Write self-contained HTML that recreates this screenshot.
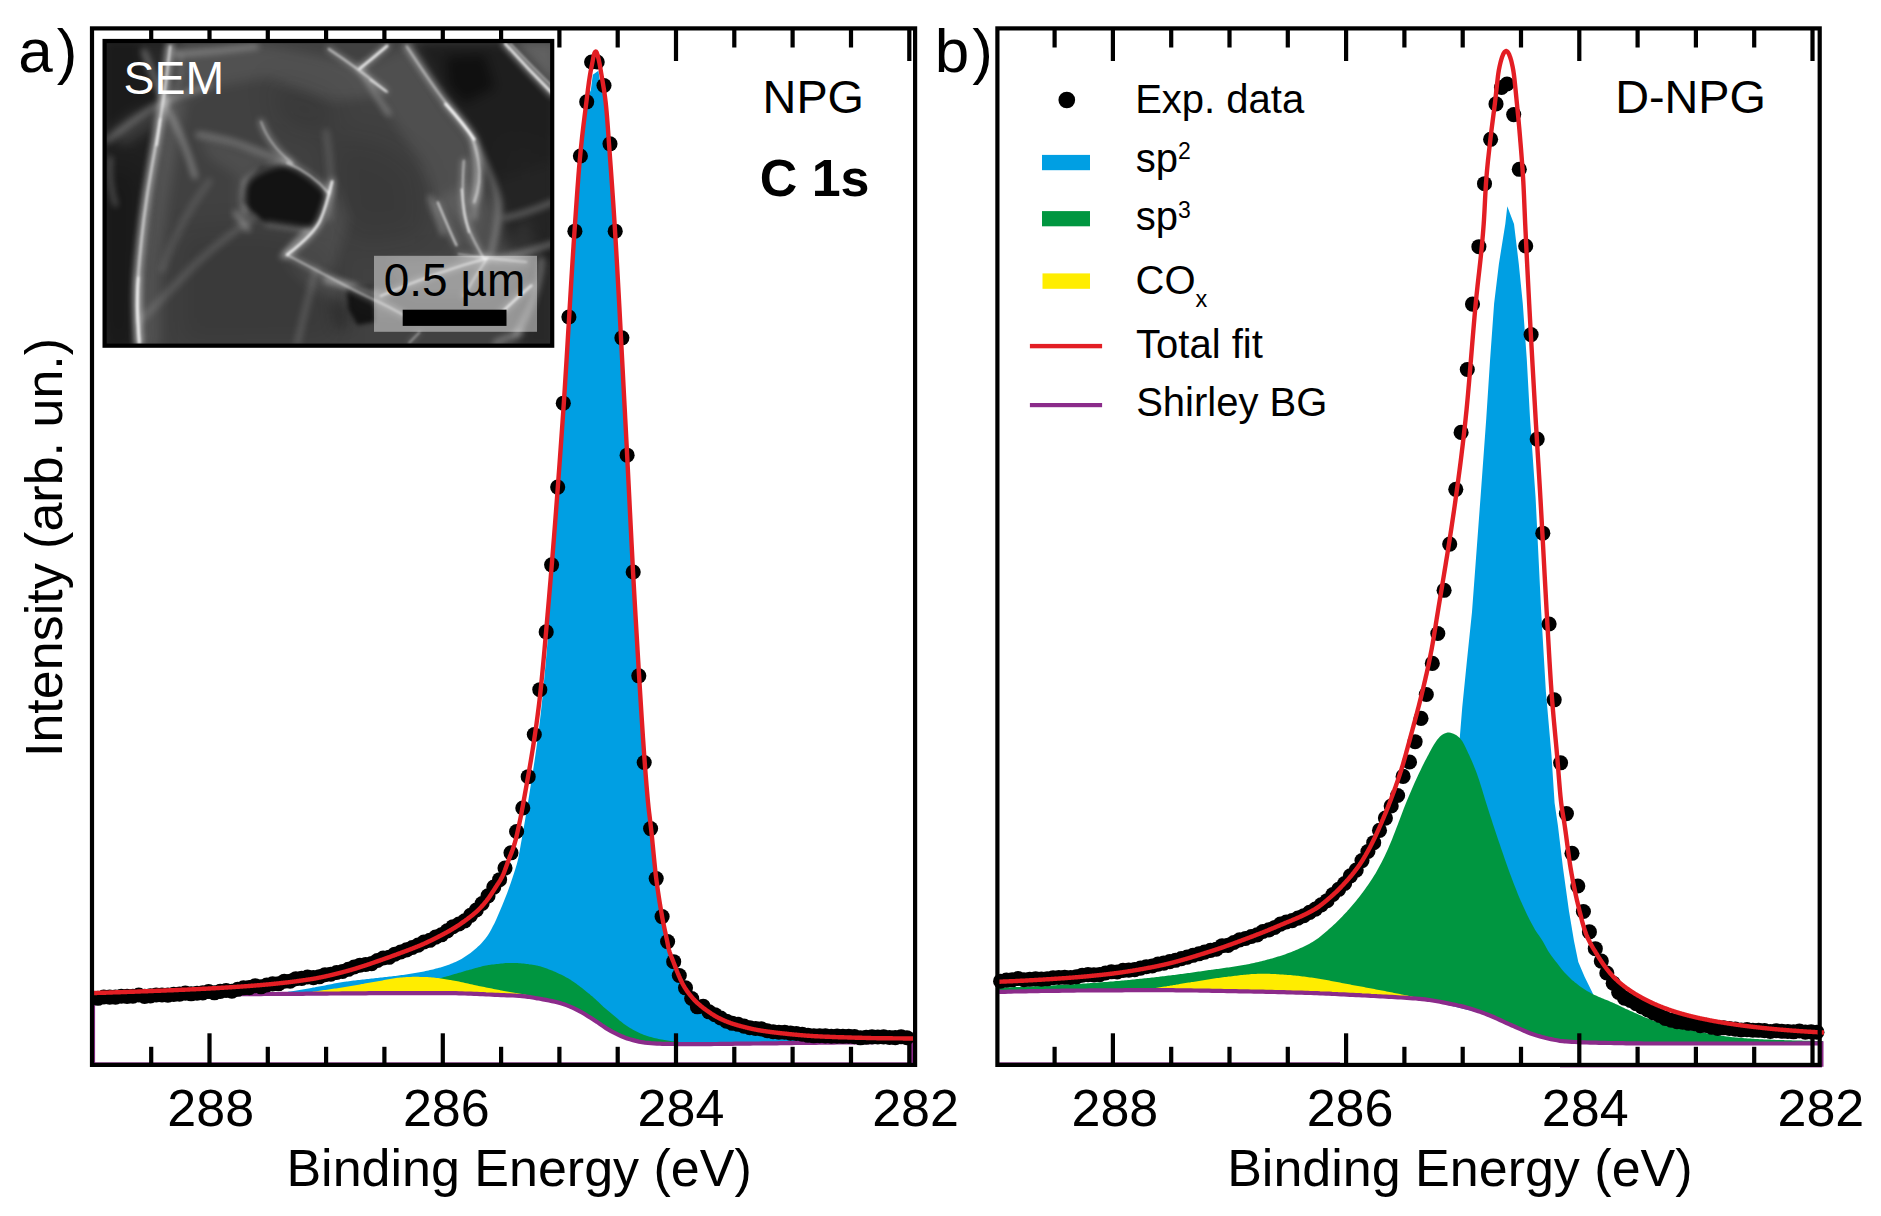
<!DOCTYPE html>
<html lang="en"><head><meta charset="utf-8"><title>XPS C 1s: NPG and D-NPG</title>
<style>html,body{margin:0;padding:0;background:#fff}body{width:1881px;height:1216px;overflow:hidden}</style></head>
<body>
<svg width="1881" height="1216" viewBox="0 0 1881 1216" style="display:block">
<rect width="1881" height="1216" fill="#fff"/>
<g id="panelA">
<path d="M277 993.5L278.5 993.3L280 993L281.5 992.8L283 992.6L284.5 992.3L286 992.1L287.5 991.9L289 991.6L290.5 991.4L292 991.2L293.5 990.9L295 990.7L296.5 990.4L298 990.2L299.5 989.9L301 989.7L302.5 989.4L304 989.2L305.5 988.9L307 988.7L308.5 988.4L310 988.2L311 988L311.5 987.9L313 987.6L314.5 987.4L316 987.1L317.5 986.8L319 986.5L320.5 986.2L322 985.9L323.5 985.7L325 985.4L326.5 985.1L328 984.8L329.5 984.5L331 984.2L332.5 983.9L334 983.6L335.5 983.3L337 983.1L338.5 982.8L340 982.5L341.5 982.3L343 982L344.5 981.8L345.3 981.7L346 981.6L347.5 981.4L349 981.2L350.5 981L352 980.8L353.5 980.6L355 980.4L356.5 980.2L358 980.1L359.5 979.9L361 979.7L362.5 979.5L364 979.4L365.5 979.2L367 979.1L368.5 978.9L370 978.7L371.5 978.6L373 978.4L374.5 978.3L376 978.1L377.5 978L379 977.8L380.5 977.6L382 977.5L383.5 977.3L385 977.1L386.5 977L388 976.8L389.5 976.6L391 976.5L392.5 976.3L394 976.1L395.5 975.9L397 975.7L398.5 975.5L400 975.3L401.5 975.1L403 974.9L404.5 974.7L406 974.4L407.5 974.2L409 974L410.5 973.8L412 973.5L413.5 973.3L415 973L416.5 972.8L418 972.5L419.5 972.3L421 972L422.5 971.7L424 971.4L425.5 971.1L427 970.8L428.5 970.5L430 970.1L431.5 969.8L433 969.4L434.5 969L436 968.6L437.5 968.2L439 967.8L440.5 967.4L442 966.9L443.5 966.5L445 966L446.5 965.5L448 965L449.5 964.4L451 963.8L452.5 963.2L454 962.6L455.5 961.9L457 961.2L458.5 960.5L459.5 960L460 959.7L461.5 958.9L463 958L464.5 957.1L466 956.1L467.5 955.1L469 954L470.5 952.9L472 951.7L473.5 950.5L475 949.3L476.5 948L478 946.6L479.5 945.2L481 943.7L482.5 942L484 940.3L485.5 938.5L485.8 938.1L487 936.5L488.5 934.2L490 931.7L491.5 929L493 926.1L494 924.2L494.5 923.2L496 920L497.5 916.6L499 913.1L500.5 909.5L500.6 909.3L502 906L503.5 902.3L505 898.6L506.5 894.8L507.2 892.9L508 890.7L509.5 886.6L511 882.2L512.5 877.7L512.9 876.5L514 873.2L515.5 868.6L517 863.5L517.9 860L518.5 857.2L520 848.9L520.8 844.3L521.5 840.4L523 831.9L524.5 823.3L525 820.4L526 814.5L527.5 805.6L528.4 800L529 796.2L530.5 786.8L532 777.3L533.5 767.7L535 757.7L536.5 747.2L538 736.1L539.5 724.2L540 720L541 711.2L542.5 697L544 681.6L545.5 665.2L547 647.9L548.5 630L548.5 603.9L549.5 592.3L550.5 580.4L551.5 568.3L552.5 555.9L553.5 543.4L554.5 530.7L555.5 517.8L556.5 504.7L557.5 491.4L558.5 478L559.5 464.3L560.5 450.5L561.5 436.5L562.5 422.3L562.8 418L563.5 407.8L564.5 392.6L565.5 376.9L566.5 360.8L567.5 344.3L568.5 327.6L569.5 311L570.5 294.3L571.5 277.9L572.5 261.9L573.5 246.3L574.5 231.2L575 224L575.5 216.8L576.5 202.5L577.5 188.5L578.5 175.2L579.5 163.1L580 157.6L580.5 152.4L581.5 142.7L582.5 133.6L583.5 125.1L584.5 116.9L585.5 108.9L586.4 101.8L586.5 101L587.5 93L588.5 85.3L590.6 92L592.8 74.7L598.4 70.7L600.4 84L601.5 75L602.5 80.9L603.5 86.8L604.5 93.3L605.5 100.9L605.6 101.8L606.5 110.8L607.5 123L608.5 136.7L609.5 150.7L610 157.6L610.5 164.4L611.5 178.1L612.5 192.3L613.5 207L614.5 222.4L614.6 224L615.5 238.6L616.5 255.6L617.5 273.1L618.5 291.2L619.5 309.7L620.5 328.5L621.5 347.6L622.5 366.7L623.5 385.8L624.5 404.8L625.2 418L625.5 423.7L626.5 442.9L627.5 462.5L628.5 482.4L629.5 502.4L630.5 522.3L631.5 542L632.5 561.3L633.5 580.1L634.5 598.2L635.3 612L635.5 615.4L636.5 632.3L637.5 649.3L638.5 666.1L639.5 682.7L640.5 699L641.5 714.9L642.5 730.4L643.5 745.2L644.5 759.3L645.5 772.7L646.5 785.2L647.5 796.7L648 802L648.5 806.9L649.5 815.6L650.5 823.7L651.1 828.9L651.5 832.6L652.5 842.6L653.5 852.9L654.5 863L655.5 872.4L656.2 878.3L656.5 880.6L657.5 888L658.5 894.9L659.5 901.4L660.5 907.4L661.5 913.2L662.1 916.6L662.5 918.8L663.5 923.9L664.5 928.7L665.5 933.3L666.5 938L667.2 941.3L667.5 942.8L668.5 947.9L669 950L669.5 951.7L670.5 954.6L671.5 957.2L672.5 959.6L673.5 962L673.6 962.3L674.5 964.7L675.5 967.4L676.5 970L677.5 972.5L677.7 973L678.5 974.9L679.5 977.2L680.5 979.5L681.5 981.6L682.5 983.6L683 984.5L683.5 985.4L684.5 987.1L685.5 988.7L686.5 990.2L687.5 991.6L688.5 993L689.5 994.3L689.6 994.4L690.5 995.5L691.5 996.7L692.5 997.9L693.5 999L694.5 1000.1L695.5 1001.1L696.5 1002.1L697 1002.6L697.5 1003.1L698.5 1004L699.5 1004.8L700.5 1005.7L701.5 1006.5L702.5 1007.3L703.5 1008.1L704.5 1008.8L705.5 1009.6L706.1 1010L706.5 1010.3L707.5 1011L708.5 1011.7L709.5 1012.4L710.5 1013.1L711.5 1013.8L712.5 1014.4L713.5 1015L714.5 1015.7L715.5 1016.2L716.5 1016.8L717.5 1017.3L717.6 1017.4L718.5 1017.9L719.5 1018.4L720.5 1018.9L721.5 1019.3L722.5 1019.8L723.5 1020.2L724.5 1020.7L725.5 1021.1L726.5 1021.5L727.5 1021.9L728.5 1022.3L729.5 1022.7L729.9 1022.8L730.5 1023L731.5 1023.4L732.5 1023.7L733.5 1024L734.5 1024.3L735.5 1024.6L736.5 1024.9L737.5 1025.2L738.5 1025.5L739.5 1025.8L740.5 1026.1L741.5 1026.3L742.2 1026.5L742.5 1026.6L743.5 1026.8L744.5 1027.1L745.5 1027.3L746.5 1027.6L747.5 1027.8L748.5 1028.1L749.5 1028.3L750.5 1028.5L751.5 1028.8L752.5 1029L753.5 1029.2L754.5 1029.4L755.5 1029.6L756.5 1029.8L757.5 1030L758.5 1030.2L758.7 1030.2L759.5 1030.3L760.5 1030.5L761.5 1030.7L762.5 1030.8L763.5 1031L764.5 1031.1L765.5 1031.3L766.5 1031.4L767.5 1031.6L768.5 1031.7L769.5 1031.8L770.5 1032L771.5 1032.1L772.5 1032.2L773.5 1032.3L774.5 1032.5L775.5 1032.6L776.5 1032.7L777.5 1032.8L778.5 1032.9L779.5 1033L780 1033.1L780.5 1033.2L781.5 1033.3L782.5 1033.4L783.5 1033.5L784.5 1033.6L785.5 1033.7L786.5 1033.8L787.5 1033.9L788.5 1034L789.5 1034.1L790.5 1034.2L791.5 1034.3L792.5 1034.4L793.5 1034.5L794.5 1034.6L795.5 1034.7L796.5 1034.8L797.5 1034.9L798.5 1035L799.5 1035.1L800 1035.1L800 1043L799.5 1043L798.5 1043L797.5 1043L796.5 1043L795.5 1043L794.5 1043L793.5 1043.1L792.5 1043.1L791.5 1043.1L790.5 1043.1L789.5 1043.1L788.5 1043.1L787.5 1043.1L786.5 1043.1L785.5 1043.2L784.5 1043.2L783.5 1043.2L782.5 1043.2L781.5 1043.2L780.5 1043.2L780 1043.2L779.5 1043.2L778.5 1043.2L777.5 1043.2L776.5 1043.3L775.5 1043.3L774.5 1043.3L773.5 1043.3L772.5 1043.3L771.5 1043.3L770.5 1043.3L769.5 1043.3L768.5 1043.4L767.5 1043.4L766.5 1043.4L765.5 1043.4L764.5 1043.4L763.5 1043.4L762.5 1043.4L761.5 1043.4L760.5 1043.4L759.5 1043.5L758.7 1043.5L758.5 1043.5L757.5 1043.5L756.5 1043.5L755.5 1043.5L754.5 1043.5L753.5 1043.5L752.5 1043.5L751.5 1043.6L750.5 1043.6L749.5 1043.6L748.5 1043.6L747.5 1043.6L746.5 1043.6L745.5 1043.6L744.5 1043.6L743.5 1043.6L742.5 1043.7L742.2 1043.7L741.5 1043.7L740.5 1043.7L739.5 1043.7L738.5 1043.7L737.5 1043.7L736.5 1043.7L735.5 1043.7L734.5 1043.7L733.5 1043.8L732.5 1043.8L731.5 1043.8L730.5 1043.8L729.9 1043.8L729.5 1043.8L728.5 1043.8L727.5 1043.8L726.5 1043.8L725.5 1043.9L724.5 1043.9L723.5 1043.9L722.5 1043.9L721.5 1043.9L720.5 1043.9L719.5 1044L718.5 1044L717.6 1044L717.5 1044L716.5 1044L715.5 1044L714.5 1044L713.5 1044L712.5 1044.1L711.5 1044.1L710.5 1044.1L709.5 1044.1L708.5 1044.1L707.5 1044.1L706.5 1044.1L706.1 1044.1L705.5 1044.1L704.5 1044.2L703.5 1044.2L702.5 1044.2L701.5 1044.2L700.5 1044.2L699.5 1044.2L698.5 1044.2L697.5 1044.2L697 1044.2L696.5 1044.2L695.5 1044.2L694.5 1044.2L693.5 1044.2L692.5 1044.2L691.5 1044.2L690.5 1044.2L689.6 1044.2L689.5 1044.2L688.5 1044.2L687.5 1044.2L686.5 1044.2L685.5 1044.2L684.5 1044.1L683.5 1044.1L683 1044.1L682.5 1044.1L681.5 1044.1L680.5 1044.1L679.5 1044.1L678.5 1044.1L677.7 1044.1L677.5 1044.1L676.5 1044.1L675.5 1044L674.5 1044L673.6 1044L673.5 1044L672.5 1044L671.5 1044L670.5 1044L669.5 1043.9L669 1043.9L668.5 1043.9L667.5 1043.9L667.2 1043.9L666.5 1043.9L665.5 1043.9L664.5 1043.9L663.5 1043.8L662.5 1043.8L662.1 1043.8L661.5 1043.8L660.5 1043.8L659.5 1043.7L658.5 1043.7L657.5 1043.6L656.5 1043.6L656.2 1043.6L655.5 1043.5L654.5 1043.4L653.5 1043.4L652.5 1043.3L651.5 1043.2L651.1 1043.2L650.5 1043.1L649.5 1043L648.5 1042.9L648 1042.9L647.5 1042.8L646.5 1042.7L645.5 1042.6L644.5 1042.5L643.5 1042.4L642.5 1042.3L641.5 1042.1L640.5 1041.9L639.5 1041.7L638.5 1041.5L637.5 1041.3L636.5 1041L635.5 1040.8L635.3 1040.7L634.5 1040.5L633.5 1040.3L632.5 1040L631.5 1039.7L630.5 1039.4L629.5 1039.1L628.5 1038.8L627.5 1038.5L626.5 1038.2L625.5 1037.8L625.2 1037.7L624.5 1037.5L623.5 1037.1L622.5 1036.7L621.5 1036.2L620.5 1035.8L619.5 1035.3L618.5 1034.9L617.5 1034.4L616.5 1033.9L615.5 1033.4L614.6 1032.9L614.5 1032.9L613.5 1032.4L612.5 1031.8L611.5 1031.3L610.5 1030.8L610 1030.5L609.5 1030.2L608.5 1029.6L607.5 1029L606.5 1028.4L605.6 1027.8L605.5 1027.7L604.5 1027.1L603.5 1026.4L602.5 1025.7L601.5 1025L600.4 1024.3L598.4 1022.9L592.8 1019.2L590.6 1017.8L588.5 1016.5L587.5 1015.9L586.5 1015.2L586.4 1015.2L585.5 1014.6L584.5 1014L583.5 1013.4L582.5 1012.8L581.5 1012.2L580.5 1011.6L580 1011.3L579.5 1011.1L578.5 1010.5L577.5 1010L576.5 1009.6L575.5 1009.1L575 1008.8L574.5 1008.6L573.5 1008.2L572.5 1007.7L571.5 1007.3L570.5 1006.8L569.5 1006.4L568.5 1006L567.5 1005.6L566.5 1005.2L565.5 1004.8L564.5 1004.5L563.5 1004.1L562.8 1003.9L562.5 1003.8L561.5 1003.5L560.5 1003.2L559.5 1002.9L558.5 1002.7L557.5 1002.4L556.5 1002.2L555.5 1001.9L554.5 1001.7L553.5 1001.5L552.5 1001.2L551.5 1001L550.5 1000.8L549.5 1000.6L548.5 1000.4L548.5 1000.4L547 1000.1L545.5 999.8L544 999.5L542.5 999.3L541 999L540 998.8L539.5 998.8L538 998.5L536.5 998.2L535 998L533.5 997.7L532 997.5L530.5 997.2L529 997L528.4 996.9L527.5 996.8L526 996.5L525 996.4L524.5 996.3L523 996.2L521.5 996L520.8 996L520 995.9L518.5 995.8L517.9 995.8L517 995.7L515.5 995.6L514 995.6L512.9 995.5L512.5 995.5L511 995.4L509.5 995.4L508 995.3L507.2 995.3L506.5 995.3L505 995.2L503.5 995.2L502 995.1L500.6 995L500.5 995L499 995L497.5 994.9L496 994.8L494.5 994.8L494 994.7L493 994.7L491.5 994.6L490 994.5L488.5 994.5L487 994.4L485.8 994.3L485.5 994.3L484 994.3L482.5 994.2L481 994.1L479.5 994L478 994L476.5 993.9L475 993.8L473.5 993.8L472 993.7L470.5 993.7L469 993.6L467.5 993.5L466 993.5L464.5 993.4L463 993.4L461.5 993.4L460 993.3L459.5 993.3L458.5 993.3L457 993.3L455.5 993.2L454 993.2L452.5 993.2L451 993.2L449.5 993.2L448 993.2L446.5 993.2L445 993.2L443.5 993.2L442 993.2L440.5 993.2L439 993.2L437.5 993.1L436 993.1L434.5 993.1L433 993.1L431.5 993.1L430 993.1L428.5 993.1L427 993.1L425.5 993.1L424 993.1L422.5 993.1L421 993.1L419.5 993.1L418 993.1L416.5 993.1L415 993.1L413.5 993.1L412 993.1L410.5 993.1L409 993.1L407.5 993.1L406 993.1L404.5 993.1L403 993.1L401.5 993.1L400 993.1L398.5 993.1L397 993.1L395.5 993.1L394 993.1L392.5 993.1L391 993.1L389.5 993.1L388 993.1L386.5 993.1L385 993.2L383.5 993.2L382 993.2L380.5 993.2L379 993.2L377.5 993.2L376 993.2L374.5 993.2L373 993.2L371.5 993.2L370 993.2L368.5 993.2L367 993.3L365.5 993.3L364 993.3L362.5 993.3L361 993.3L359.5 993.3L358 993.3L356.5 993.3L355 993.3L353.5 993.3L352 993.4L350.5 993.4L349 993.4L347.5 993.4L346 993.4L345.3 993.4L344.5 993.4L343 993.4L341.5 993.4L340 993.5L338.5 993.5L337 993.5L335.5 993.5L334 993.5L332.5 993.5L331 993.5L329.5 993.5L328 993.6L326.5 993.6L325 993.6L323.5 993.6L322 993.6L320.5 993.6L319 993.6L317.5 993.6L316 993.7L314.5 993.7L313 993.7L311.5 993.7L311 993.7L310 993.7L308.5 993.7L307 993.7L305.5 993.7L304 993.8L302.5 993.8L301 993.8L299.5 993.8L298 993.8L296.5 993.8L295 993.8L293.5 993.8L292 993.9L290.5 993.9L289 993.9L287.5 993.9L286 993.9L284.5 993.9L283 993.9L281.5 993.9L280 993.9L278.5 994L277 994Z" fill="#009fe3"/>
<path d="M330 993.2L331.5 993.1L333 993.1L334.5 993L336 992.9L337.5 992.9L339 992.8L340.5 992.7L342 992.6L343.5 992.5L345 992.4L346.5 992.3L348 992.2L349.5 992L351 991.9L352.5 991.8L354 991.7L355.5 991.5L357 991.4L358.5 991.3L360 991.1L361.5 991L363 990.8L364.5 990.7L366 990.5L367.5 990.4L369 990.2L370.5 990L372 989.9L373.5 989.7L375 989.6L376.5 989.4L378 989.2L379.5 989.1L380 989L381 988.9L382.5 988.7L384 988.5L385.5 988.3L387 988.1L388.5 987.9L390 987.6L391.5 987.4L393 987.2L394.5 986.9L396 986.7L397.5 986.4L399 986.2L400 986L400.5 985.9L402 985.7L403.5 985.4L405 985.1L406.5 984.9L408 984.6L409.5 984.4L411 984.1L412.5 983.8L414 983.5L415.5 983.2L417 983L418.5 982.7L420 982.4L421.5 982.1L423 981.8L424.5 981.5L426 981.2L427.5 980.9L429 980.6L430.5 980.2L432 979.9L433.5 979.6L435 979.3L436.5 978.9L438 978.6L439.5 978.2L440.9 977.9L441 977.9L442.5 977.5L444 977.1L445.5 976.7L447 976.3L448.5 975.9L450 975.5L451.5 975L453 974.6L454.5 974.1L456 973.7L457.5 973.2L459 972.8L460.5 972.4L462 971.9L463.5 971.5L465 971L466.5 970.6L468 970.2L468.1 970.2L469.5 969.8L471 969.4L472.5 969L474 968.5L475.5 968.1L477 967.7L478.5 967.3L480 966.9L481.5 966.5L483 966.1L484.5 965.8L486 965.5L487.5 965.2L488.5 965.1L489 965L490.5 964.8L492 964.6L493.5 964.4L495 964.2L496.5 964L498 963.9L499.5 963.7L501 963.5L502.5 963.4L504 963.3L505.5 963.1L507 963.1L508.5 963L510 962.9L511.5 962.9L512.3 962.9L513 962.9L514.5 962.9L516 963L517.5 963.1L519 963.2L520.5 963.3L522 963.4L523.5 963.6L525 963.7L526.5 963.9L528 964.1L529.5 964.4L531 964.6L532.5 964.8L534 965L535.5 965.3L536.2 965.4L537 965.5L538.5 965.9L540 966.2L541.5 966.7L543 967.2L544.5 967.7L546 968.2L547.5 968.8L549 969.4L550.5 970L552 970.6L553.2 971.1L553.5 971.2L555 971.8L556.5 972.5L558 973.2L559.5 973.9L561 974.6L562.5 975.3L564 976.1L565.5 976.9L567 977.8L568.5 978.6L570 979.5L570.2 979.6L571.5 980.4L573 981.4L574.5 982.5L576 983.6L577 984.3L577.5 984.7L579 985.8L580.5 986.9L582 988.1L583.5 989.3L585 990.5L586.5 991.7L587.2 992.3L588 992.9L589.5 994.1L591 995.4L592.5 996.6L594 997.9L595.5 999.3L597 1000.7L598.5 1002.1L600 1003.6L601.5 1005L602.6 1006L603 1006.4L604.5 1007.7L606 1009L607.5 1010.2L609 1011.5L610.5 1012.7L611.1 1013.2L612 1013.9L613.5 1015.2L615 1016.5L616.5 1017.8L618 1019.1L619.5 1020.4L621 1021.6L622.5 1022.8L624 1024L625.5 1025.1L627 1026.1L628.1 1026.8L628.5 1027L630 1028L631.5 1028.8L633 1029.7L634.5 1030.5L636 1031.3L637.5 1032.1L639 1032.8L640.5 1033.5L642 1034.1L643.5 1034.7L645 1035.3L645.1 1035.3L646.5 1035.8L648 1036.2L649.5 1036.7L651 1037.1L652.5 1037.5L654 1037.9L655.5 1038.2L657 1038.6L658.5 1038.9L660 1039.2L661.5 1039.5L662.1 1039.6L663 1039.8L664.5 1040L666 1040.3L667.5 1040.5L669 1040.7L670.5 1041L672 1041.2L673.5 1041.3L675 1041.5L675.7 1041.6L676.5 1041.7L678 1041.8L679.5 1042L681 1042.2L682.5 1042.3L684 1042.5L685.5 1042.6L687 1042.7L688.5 1042.9L690 1043L691.5 1043.1L693 1043.2L694.5 1043.3L696 1043.4L697.5 1043.5L699 1043.6L700 1043.6L700 1044.2L699 1044.2L697.5 1044.2L696 1044.2L694.5 1044.2L693 1044.2L691.5 1044.2L690 1044.2L688.5 1044.2L687 1044.2L685.5 1044.2L684 1044.1L682.5 1044.1L681 1044.1L679.5 1044.1L678 1044.1L676.5 1044.1L675.7 1044L675 1044L673.5 1044L672 1044L670.5 1044L669 1043.9L667.5 1043.9L666 1043.9L664.5 1043.9L663 1043.8L662.1 1043.8L661.5 1043.8L660 1043.7L658.5 1043.7L657 1043.6L655.5 1043.5L654 1043.4L652.5 1043.3L651 1043.2L649.5 1043L648 1042.9L646.5 1042.7L645.1 1042.6L645 1042.6L643.5 1042.4L642 1042.2L640.5 1041.9L639 1041.6L637.5 1041.3L636 1040.9L634.5 1040.5L633 1040.1L631.5 1039.7L630 1039.3L628.5 1038.8L628.1 1038.7L627 1038.4L625.5 1037.8L624 1037.3L622.5 1036.7L621 1036L619.5 1035.3L618 1034.6L616.5 1033.9L615 1033.1L613.5 1032.4L612 1031.6L611.1 1031.1L610.5 1030.8L609 1029.9L607.5 1029L606 1028.1L604.5 1027.1L603 1026.1L602.6 1025.8L601.5 1025L600 1024L598.5 1023L597 1021.9L595.5 1021L594 1020L592.5 1019.1L591 1018.1L589.5 1017.1L588 1016.2L587.2 1015.7L586.5 1015.2L585 1014.3L583.5 1013.4L582 1012.5L580.5 1011.6L579 1010.8L577.5 1010L577 1009.8L576 1009.3L574.5 1008.6L573 1007.9L571.5 1007.3L570.2 1006.7L570 1006.6L568.5 1006L567 1005.4L565.5 1004.8L564 1004.3L562.5 1003.8L561 1003.4L559.5 1002.9L558 1002.5L556.5 1002.2L555 1001.8L553.5 1001.5L553.2 1001.4L552 1001.1L550.5 1000.8L549 1000.5L547.5 1000.2L546 999.9L544.5 999.6L543 999.4L541.5 999.1L540 998.8L538.5 998.6L537 998.3L536.2 998.2L535.5 998.1L534 997.8L532.5 997.6L531 997.3L529.5 997.1L528 996.8L526.5 996.6L525 996.4L523.5 996.2L522 996.1L520.5 995.9L519 995.8L517.5 995.7L516 995.7L514.5 995.6L513 995.5L512.3 995.5L511.5 995.5L510 995.4L508.5 995.3L507 995.3L505.5 995.2L504 995.2L502.5 995.1L501 995.1L499.5 995L498 994.9L496.5 994.9L495 994.8L493.5 994.7L492 994.6L490.5 994.6L489 994.5L488.5 994.5L487.5 994.4L486 994.4L484.5 994.3L483 994.2L481.5 994.1L480 994.1L478.5 994L477 993.9L475.5 993.9L474 993.8L472.5 993.7L471 993.7L469.5 993.6L468.1 993.6L468 993.6L466.5 993.5L465 993.5L463.5 993.4L462 993.4L460.5 993.3L459 993.3L457.5 993.3L456 993.2L454.5 993.2L453 993.2L451.5 993.2L450 993.2L448.5 993.2L447 993.2L445.5 993.2L444 993.2L442.5 993.2L441 993.2L440.9 993.2L439.5 993.2L438 993.1L436.5 993.1L435 993.1L433.5 993.1L432 993.1L430.5 993.1L429 993.1L427.5 993.1L426 993.1L424.5 993.1L423 993.1L421.5 993.1L420 993.1L418.5 993.1L417 993.1L415.5 993.1L414 993.1L412.5 993.1L411 993.1L409.5 993.1L408 993.1L406.5 993.1L405 993.1L403.5 993.1L402 993.1L400.5 993.1L400 993.1L399 993.1L397.5 993.1L396 993.1L394.5 993.1L393 993.1L391.5 993.1L390 993.1L388.5 993.1L387 993.1L385.5 993.2L384 993.2L382.5 993.2L381 993.2L380 993.2L379.5 993.2L378 993.2L376.5 993.2L375 993.2L373.5 993.2L372 993.2L370.5 993.2L369 993.2L367.5 993.2L366 993.3L364.5 993.3L363 993.3L361.5 993.3L360 993.3L358.5 993.3L357 993.3L355.5 993.3L354 993.3L352.5 993.4L351 993.4L349.5 993.4L348 993.4L346.5 993.4L345 993.4L343.5 993.4L342 993.4L340.5 993.4L339 993.5L337.5 993.5L336 993.5L334.5 993.5L333 993.5L331.5 993.5L330 993.5Z" fill="#009640"/>
<path d="M300 993.6L301.5 993.4L303 993.2L304.5 992.9L306 992.7L307.5 992.5L309 992.3L310.5 992.1L311 992L312 991.9L313.5 991.6L315 991.4L316.5 991.2L318 991L319.5 990.8L321 990.6L322.5 990.3L324 990.1L325.5 989.9L327 989.7L328.5 989.5L330 989.3L331.5 989.1L333 988.8L334.5 988.6L336 988.4L337.5 988.2L339 987.9L340.5 987.7L342 987.5L343.5 987.2L345 987L346.5 986.8L348 986.5L349.5 986.3L351 986L352.5 985.7L354 985.5L355.5 985.2L357 984.9L358.5 984.7L360 984.4L361.5 984.1L363 983.9L364.5 983.6L366 983.3L367.5 983L369 982.8L370.5 982.5L372 982.2L373.5 982L375 981.7L376.5 981.4L378 981.2L379 981L379.5 980.9L381 980.7L382.5 980.4L384 980.1L385.5 979.8L387 979.5L388.5 979.2L390 979L391.5 978.7L393 978.5L394.5 978.2L396 978L397.5 977.8L399 977.7L400 977.6L400.5 977.6L402 977.4L403.5 977.3L405 977.2L406.5 977.1L408 977L409.5 976.9L411 976.9L412.5 976.8L414 976.8L415 976.8L415.5 976.8L417 976.8L418.5 976.8L420 976.9L421.5 976.9L423 976.9L424.5 977L425.5 977L426 977L427.5 977.1L429 977.2L430.5 977.3L432 977.4L433.5 977.6L435 977.7L436.5 977.9L438 978.1L439.5 978.3L441 978.5L442.5 978.8L444 979L445.5 979.2L447 979.5L448.5 979.7L450 979.9L451.1 980.1L451.5 980.2L453 980.4L454.5 980.7L456 981L457.5 981.3L459 981.6L460.5 981.9L462 982.2L463.5 982.6L465 982.9L466.5 983.2L468 983.6L469.5 983.9L471 984.3L472.5 984.6L474 984.9L475.5 985.3L476.6 985.5L477 985.6L478.5 985.9L480 986.2L481.5 986.5L483 986.8L484.5 987.1L486 987.4L487.5 987.7L489 988L490.5 988.3L492 988.6L493.5 988.9L495 989.2L496.5 989.5L498 989.8L499.5 990.1L501 990.4L502.1 990.6L502.5 990.7L504 991L505.5 991.2L507 991.5L508.5 991.8L510 992L511.5 992.3L513 992.5L514.5 992.8L516 993L517.5 993.3L519 993.5L520.5 993.8L522 994.1L523.5 994.3L525 994.6L526.5 994.9L528 995.2L529.4 995.5L529.5 995.5L531 995.8L532.5 996.2L534 996.5L535.5 996.8L537 997.2L538.5 997.5L540 997.9L541.5 998.2L543 998.6L544.5 999L546 999.4L547.5 999.8L549 1000.2L550.5 1000.6L552 1001L553.5 1001.4L555 1001.8L556.5 1002.2L558 1002.5L559.5 1002.9L560 1003.1L560 1003.1L559.5 1002.9L558 1002.5L556.5 1002.2L555 1001.8L553.5 1001.5L552 1001.1L550.5 1000.8L549 1000.5L547.5 1000.2L546 999.9L544.5 999.6L543 999.4L541.5 999.1L540 998.8L538.5 998.6L537 998.3L535.5 998.1L534 997.8L532.5 997.6L531 997.3L529.5 997.1L529.4 997.1L528 996.8L526.5 996.6L525 996.4L523.5 996.2L522 996.1L520.5 995.9L519 995.8L517.5 995.7L516 995.7L514.5 995.6L513 995.5L511.5 995.5L510 995.4L508.5 995.3L507 995.3L505.5 995.2L504 995.2L502.5 995.1L502.1 995.1L501 995.1L499.5 995L498 994.9L496.5 994.9L495 994.8L493.5 994.7L492 994.6L490.5 994.6L489 994.5L487.5 994.4L486 994.4L484.5 994.3L483 994.2L481.5 994.1L480 994.1L478.5 994L477 993.9L476.6 993.9L475.5 993.9L474 993.8L472.5 993.7L471 993.7L469.5 993.6L468 993.6L466.5 993.5L465 993.5L463.5 993.4L462 993.4L460.5 993.3L459 993.3L457.5 993.3L456 993.2L454.5 993.2L453 993.2L451.5 993.2L451.1 993.2L450 993.2L448.5 993.2L447 993.2L445.5 993.2L444 993.2L442.5 993.2L441 993.2L439.5 993.2L438 993.1L436.5 993.1L435 993.1L433.5 993.1L432 993.1L430.5 993.1L429 993.1L427.5 993.1L426 993.1L425.5 993.1L424.5 993.1L423 993.1L421.5 993.1L420 993.1L418.5 993.1L417 993.1L415.5 993.1L415 993.1L414 993.1L412.5 993.1L411 993.1L409.5 993.1L408 993.1L406.5 993.1L405 993.1L403.5 993.1L402 993.1L400.5 993.1L400 993.1L399 993.1L397.5 993.1L396 993.1L394.5 993.1L393 993.1L391.5 993.1L390 993.1L388.5 993.1L387 993.1L385.5 993.2L384 993.2L382.5 993.2L381 993.2L379.5 993.2L379 993.2L378 993.2L376.5 993.2L375 993.2L373.5 993.2L372 993.2L370.5 993.2L369 993.2L367.5 993.2L366 993.3L364.5 993.3L363 993.3L361.5 993.3L360 993.3L358.5 993.3L357 993.3L355.5 993.3L354 993.3L352.5 993.4L351 993.4L349.5 993.4L348 993.4L346.5 993.4L345 993.4L343.5 993.4L342 993.4L340.5 993.4L339 993.5L337.5 993.5L336 993.5L334.5 993.5L333 993.5L331.5 993.5L330 993.5L328.5 993.5L327 993.6L325.5 993.6L324 993.6L322.5 993.6L321 993.6L319.5 993.6L318 993.6L316.5 993.7L315 993.7L313.5 993.7L312 993.7L311 993.7L310.5 993.7L309 993.7L307.5 993.7L306 993.7L304.5 993.8L303 993.8L301.5 993.8L300 993.8Z" fill="#ffed00"/>
<path d="M93 1063L93 994.5L96 994.5L99 994.5L102 994.5L105 994.5L108 994.5L111 994.5L114 994.5L117 994.5L120 994.5L123 994.5L126 994.5L129 994.5L132 994.4L135 994.4L138 994.4L141 994.4L144 994.4L147 994.4L150 994.4L153 994.4L156 994.4L159 994.4L162 994.4L165 994.4L168 994.4L171 994.4L174 994.4L177 994.3L180 994.3L183 994.3L186 994.3L189 994.3L192 994.3L195 994.3L198 994.3L201 994.3L204 994.3L207 994.3L210 994.2L213 994.2L216 994.2L219 994.2L222 994.2L225 994.2L228 994.2L231 994.2L234 994.2L237 994.2L240 994.1L243 994.1L246 994.1L249 994.1L251.7 994.1L252 994.1L255 994.1L258 994.1L261 994.1L264 994L267 994L270 994L273 994L276 994L279 994L282 993.9L285 993.9L288 993.9L291 993.9L294 993.8L297 993.8L300 993.8L303 993.8L306 993.7L309 993.7L312 993.7L315 993.7L318 993.6L321 993.6L324 993.6L327 993.6L330 993.5L333 993.5L336 993.5L339 993.5L342 993.4L345 993.4L348 993.4L351 993.4L354 993.3L357 993.3L360 993.3L363 993.3L366 993.3L369 993.2L372 993.2L375 993.2L378 993.2L381 993.2L384 993.2L387 993.1L390 993.1L393 993.1L396 993.1L399 993.1L402 993.1L405 993.1L408 993.1L410 993.1L411 993.1L414 993.1L417 993.1L420 993.1L423 993.1L426 993.1L429 993.1L432 993.1L435 993.1L438 993.1L441 993.2L444 993.2L447 993.2L450 993.2L451.1 993.2L453 993.2L456 993.2L459 993.3L462 993.4L465 993.5L468 993.6L471 993.7L474 993.8L477 993.9L480 994.1L483 994.2L486 994.4L489 994.5L492 994.6L495 994.8L498 994.9L501 995.1L502.1 995.1L504 995.2L507 995.3L510 995.4L513 995.5L516 995.7L519 995.8L520 995.9L522 996.1L525 996.4L528 996.8L531 997.3L534 997.8L536.2 998.2L537 998.3L540 998.8L543 999.4L546 999.9L549 1000.5L552 1001.1L555 1001.8L558 1002.5L560.8 1003.3L561 1003.4L564 1004.3L567 1005.4L570 1006.6L573 1007.9L576 1009.3L577 1009.8L579 1010.8L582 1012.5L585 1014.3L588 1016.2L591 1018.1L594 1020L597 1021.9L600 1024L603 1026.1L606 1028.1L609 1029.9L611.1 1031.1L612 1031.6L615 1033.1L618 1034.6L621 1036L624 1037.3L627 1038.4L628.1 1038.7L630 1039.3L633 1040.1L636 1040.9L639 1041.6L642 1042.2L645 1042.6L645.1 1042.6L648 1042.9L651 1043.2L654 1043.4L657 1043.6L660 1043.7L662.1 1043.8L663 1043.8L666 1043.9L669 1043.9L672 1044L675 1044L678 1044.1L681 1044.1L684 1044.1L687 1044.2L690 1044.2L693 1044.2L696 1044.2L696.2 1044.2L699 1044.2L702 1044.2L705 1044.2L708 1044.1L711 1044.1L714 1044L717 1044L720 1043.9L723 1043.9L726 1043.9L729 1043.8L730.2 1043.8L732 1043.8L735 1043.7L738 1043.7L741 1043.7L744 1043.6L747 1043.6L750 1043.6L753 1043.5L756 1043.5L759 1043.5L762 1043.4L765 1043.4L768 1043.4L771 1043.3L774 1043.3L777 1043.3L780 1043.2L783 1043.2L786 1043.1L789 1043.1L792 1043.1L795 1043L798 1043L798.3 1043L801 1043L804 1042.9L807 1042.9L810 1042.9L813 1042.8L816 1042.8L819 1042.7L822 1042.7L825 1042.7L828 1042.6L831 1042.6L834 1042.6L837 1042.5L840 1042.5L843 1042.4L846 1042.4L849 1042.4L852 1042.3L855 1042.3L858 1042.3L861 1042.2L864 1042.2L867 1042.1L870 1042.1L873 1042.1L876 1042L879 1042L882 1041.9L885 1041.9L888 1041.9L891 1041.8L894 1041.8L897 1041.7L900 1041.7L903 1041.7L906 1041.6L909 1041.6L912 1041.5L912.6 1041.5L912.6 1063" fill="none" stroke="#8b2b8a" stroke-width="4.2" stroke-linejoin="miter"/>
<path d="M93 1062.5H912" stroke="#8b2b8a" stroke-width="0.9" stroke-opacity="0.7" fill="none"/>
<g fill="#000"><rect x="149.1" y="30" width="4.2" height="17.5"/>
<rect x="149.1" y="1046.8" width="4.2" height="16.5"/>
<rect x="207.4" y="30" width="4.2" height="31"/>
<rect x="207.4" y="1033.3" width="4.2" height="30"/>
<rect x="265.7" y="30" width="4.2" height="17.5"/>
<rect x="265.7" y="1046.8" width="4.2" height="16.5"/>
<rect x="324" y="30" width="4.2" height="17.5"/>
<rect x="324" y="1046.8" width="4.2" height="16.5"/>
<rect x="382.3" y="30" width="4.2" height="17.5"/>
<rect x="382.3" y="1046.8" width="4.2" height="16.5"/>
<rect x="440.7" y="30" width="4.2" height="31"/>
<rect x="440.7" y="1033.3" width="4.2" height="30"/>
<rect x="499" y="30" width="4.2" height="17.5"/>
<rect x="499" y="1046.8" width="4.2" height="16.5"/>
<rect x="557.3" y="30" width="4.2" height="17.5"/>
<rect x="557.3" y="1046.8" width="4.2" height="16.5"/>
<rect x="615.6" y="30" width="4.2" height="17.5"/>
<rect x="615.6" y="1046.8" width="4.2" height="16.5"/>
<rect x="673.9" y="30" width="4.2" height="31"/>
<rect x="673.9" y="1033.3" width="4.2" height="30"/>
<rect x="732.2" y="30" width="4.2" height="17.5"/>
<rect x="732.2" y="1046.8" width="4.2" height="16.5"/>
<rect x="790.5" y="30" width="4.2" height="17.5"/>
<rect x="790.5" y="1046.8" width="4.2" height="16.5"/>
<rect x="848.9" y="30" width="4.2" height="17.5"/>
<rect x="848.9" y="1046.8" width="4.2" height="16.5"/>
<rect x="907.2" y="30" width="4.2" height="31"/>
<rect x="907.2" y="1033.3" width="4.2" height="30"/></g>
<g fill="#000"><circle cx="98" cy="998.3" r="7.55"/>
<circle cx="103.8" cy="997" r="7.55"/>
<circle cx="109.7" cy="997.1" r="7.55"/>
<circle cx="115.5" cy="997.1" r="7.55"/>
<circle cx="121.3" cy="996.2" r="7.55"/>
<circle cx="127.1" cy="996.4" r="7.55"/>
<circle cx="132.9" cy="996.2" r="7.55"/>
<circle cx="138.8" cy="995" r="7.55"/>
<circle cx="144.6" cy="996.4" r="7.55"/>
<circle cx="150.4" cy="995.9" r="7.55"/>
<circle cx="156.2" cy="995" r="7.55"/>
<circle cx="162" cy="995" r="7.55"/>
<circle cx="167.9" cy="995.1" r="7.55"/>
<circle cx="173.7" cy="994.4" r="7.55"/>
<circle cx="179.5" cy="994.1" r="7.55"/>
<circle cx="185.3" cy="993.1" r="7.55"/>
<circle cx="191.1" cy="993.8" r="7.55"/>
<circle cx="197" cy="993.2" r="7.55"/>
<circle cx="202.8" cy="992.9" r="7.55"/>
<circle cx="208.6" cy="991.5" r="7.55"/>
<circle cx="214.4" cy="992.8" r="7.55"/>
<circle cx="220.2" cy="991.4" r="7.55"/>
<circle cx="226.1" cy="990.5" r="7.55"/>
<circle cx="231.9" cy="991.2" r="7.55"/>
<circle cx="237.7" cy="989.3" r="7.55"/>
<circle cx="243.5" cy="987.8" r="7.55"/>
<circle cx="249.3" cy="987.6" r="7.55"/>
<circle cx="255.2" cy="985.7" r="7.55"/>
<circle cx="261" cy="986.8" r="7.55"/>
<circle cx="266.8" cy="985" r="7.55"/>
<circle cx="272.6" cy="983.9" r="7.55"/>
<circle cx="278.4" cy="983.8" r="7.55"/>
<circle cx="284.3" cy="981.2" r="7.55"/>
<circle cx="290.1" cy="981.2" r="7.55"/>
<circle cx="295.9" cy="978.7" r="7.55"/>
<circle cx="301.7" cy="978.4" r="7.55"/>
<circle cx="307.5" cy="977" r="7.55"/>
<circle cx="313.4" cy="977.6" r="7.55"/>
<circle cx="319.2" cy="976.8" r="7.55"/>
<circle cx="325" cy="974.7" r="7.55"/>
<circle cx="330.8" cy="974.2" r="7.55"/>
<circle cx="336.6" cy="972.5" r="7.55"/>
<circle cx="342.5" cy="971.5" r="7.55"/>
<circle cx="348.3" cy="969.3" r="7.55"/>
<circle cx="354.1" cy="967" r="7.55"/>
<circle cx="359.9" cy="965.2" r="7.55"/>
<circle cx="365.7" cy="964.5" r="7.55"/>
<circle cx="371.6" cy="963.6" r="7.55"/>
<circle cx="377.4" cy="960.5" r="7.55"/>
<circle cx="383.2" cy="958" r="7.55"/>
<circle cx="389" cy="957.3" r="7.55"/>
<circle cx="394.8" cy="954.2" r="7.55"/>
<circle cx="400.7" cy="952" r="7.55"/>
<circle cx="406.5" cy="949.9" r="7.55"/>
<circle cx="412.3" cy="947.5" r="7.55"/>
<circle cx="418.1" cy="945.1" r="7.55"/>
<circle cx="423.9" cy="942" r="7.55"/>
<circle cx="429.8" cy="940.3" r="7.55"/>
<circle cx="435.6" cy="937.1" r="7.55"/>
<circle cx="441.4" cy="934.8" r="7.55"/>
<circle cx="447.2" cy="930.9" r="7.55"/>
<circle cx="453" cy="926.7" r="7.55"/>
<circle cx="458.9" cy="924" r="7.55"/>
<circle cx="464.7" cy="920.9" r="7.55"/>
<circle cx="470.5" cy="915.4" r="7.55"/>
<circle cx="476.3" cy="910" r="7.55"/>
<circle cx="482.1" cy="903.5" r="7.55"/>
<circle cx="488" cy="895.9" r="7.55"/>
<circle cx="493.8" cy="887.1" r="7.55"/>
<circle cx="499.6" cy="879.7" r="7.55"/>
<circle cx="505" cy="868.1" r="7.55"/>
<circle cx="511" cy="852.8" r="7.55"/>
<circle cx="516.6" cy="831.5" r="7.55"/>
<circle cx="522.8" cy="808" r="7.55"/>
<circle cx="528.2" cy="776.7" r="7.55"/>
<circle cx="534.3" cy="734.5" r="7.55"/>
<circle cx="539.8" cy="689.7" r="7.55"/>
<circle cx="546.2" cy="631.9" r="7.55"/>
<circle cx="551.6" cy="564.8" r="7.55"/>
<circle cx="557.7" cy="487.1" r="7.55"/>
<circle cx="563.3" cy="403.2" r="7.55"/>
<circle cx="568.9" cy="317" r="7.55"/>
<circle cx="574.9" cy="231.2" r="7.55"/>
<circle cx="580.4" cy="156" r="7.55"/>
<circle cx="586.7" cy="101.8" r="7.55"/>
<circle cx="591.6" cy="62" r="7.55"/>
<circle cx="597.2" cy="62" r="7.55"/>
<circle cx="604" cy="85.5" r="7.55"/>
<circle cx="610" cy="143.8" r="7.55"/>
<circle cx="615.2" cy="231.2" r="7.55"/>
<circle cx="621.9" cy="337.8" r="7.55"/>
<circle cx="627.1" cy="455.2" r="7.55"/>
<circle cx="633.2" cy="572" r="7.55"/>
<circle cx="638.8" cy="675.8" r="7.55"/>
<circle cx="644.2" cy="762.5" r="7.55"/>
<circle cx="650.6" cy="828.6" r="7.55"/>
<circle cx="656.2" cy="878.6" r="7.55"/>
<circle cx="662.1" cy="916.6" r="7.55"/>
<circle cx="667.6" cy="941.6" r="7.55"/>
<circle cx="673.7" cy="961.7" r="7.55"/>
<circle cx="679.3" cy="975.5" r="7.55"/>
<circle cx="685.5" cy="987.8" r="7.55"/>
<circle cx="691.7" cy="998.5" r="7.55"/>
<circle cx="697.4" cy="1006.8" r="7.55"/>
<circle cx="703.2" cy="1006.3" r="7.55"/>
<circle cx="709" cy="1011.8" r="7.55"/>
<circle cx="714.9" cy="1014.7" r="7.55"/>
<circle cx="720.7" cy="1018" r="7.55"/>
<circle cx="726.5" cy="1021.2" r="7.55"/>
<circle cx="732.3" cy="1023.3" r="7.55"/>
<circle cx="738.1" cy="1024.3" r="7.55"/>
<circle cx="744" cy="1026.1" r="7.55"/>
<circle cx="749.8" cy="1027.7" r="7.55"/>
<circle cx="755.6" cy="1028.5" r="7.55"/>
<circle cx="761.4" cy="1028.9" r="7.55"/>
<circle cx="767.2" cy="1030.8" r="7.55"/>
<circle cx="773.1" cy="1031.7" r="7.55"/>
<circle cx="778.9" cy="1032.2" r="7.55"/>
<circle cx="784.7" cy="1032.2" r="7.55"/>
<circle cx="790.5" cy="1033.1" r="7.55"/>
<circle cx="796.3" cy="1033.5" r="7.55"/>
<circle cx="802.2" cy="1034.2" r="7.55"/>
<circle cx="808" cy="1035.3" r="7.55"/>
<circle cx="813.8" cy="1035.8" r="7.55"/>
<circle cx="819.6" cy="1035.7" r="7.55"/>
<circle cx="825.4" cy="1035.9" r="7.55"/>
<circle cx="831.3" cy="1036.2" r="7.55"/>
<circle cx="837.1" cy="1036.1" r="7.55"/>
<circle cx="842.9" cy="1036.3" r="7.55"/>
<circle cx="848.7" cy="1036.2" r="7.55"/>
<circle cx="854.5" cy="1036.6" r="7.55"/>
<circle cx="860.4" cy="1037.8" r="7.55"/>
<circle cx="866.2" cy="1037.3" r="7.55"/>
<circle cx="872" cy="1036.9" r="7.55"/>
<circle cx="877.8" cy="1037" r="7.55"/>
<circle cx="883.6" cy="1036.9" r="7.55"/>
<circle cx="889.5" cy="1037.5" r="7.55"/>
<circle cx="895.3" cy="1037.6" r="7.55"/>
<circle cx="901.1" cy="1036.8" r="7.55"/>
<circle cx="906.9" cy="1037.7" r="7.55"/></g>
<path d="M92 993.1L92.5 993.1L93 993.1L93.5 993L94 993L94.5 993L95 993L95.5 993L96 993L96.5 993L97 992.9L97.5 992.9L98 992.9L98.5 992.9L99 992.9L99.5 992.9L100 992.8L100.5 992.8L101 992.8L101.5 992.8L102 992.8L102.5 992.8L103 992.7L103.5 992.7L104 992.7L104.5 992.7L105 992.7L105.5 992.7L106 992.7L106.5 992.6L107 992.6L107.5 992.6L108 992.6L108.5 992.6L109 992.6L109.5 992.5L110 992.5L110.5 992.5L111 992.5L111.5 992.5L112 992.5L112.5 992.4L113 992.4L113.5 992.4L114 992.4L114.5 992.4L115 992.4L115.5 992.3L116 992.3L116.5 992.3L117 992.3L117.5 992.3L118 992.3L118.5 992.2L119 992.2L119.5 992.2L120 992.2L120.5 992.2L121 992.1L121.5 992.1L122 992.1L122.5 992.1L123 992.1L123.5 992.1L124 992L124.5 992L125 992L125.5 992L126 992L126.5 992L127 991.9L127.5 991.9L128 991.9L128.5 991.9L129 991.9L129.5 991.8L130 991.8L130.5 991.8L131 991.8L131.5 991.8L132 991.8L132.5 991.7L133 991.7L133.5 991.7L134 991.7L134.5 991.7L135 991.6L135.5 991.6L136 991.6L136.5 991.6L137 991.6L137.5 991.6L138 991.5L138.5 991.5L139 991.5L139.5 991.5L140 991.5L140.5 991.4L141 991.4L141.5 991.4L142 991.4L142.5 991.4L143 991.4L143.5 991.3L144 991.3L144.5 991.3L145 991.3L145.5 991.3L146 991.2L146.5 991.2L147 991.2L147.5 991.2L148 991.2L148.5 991.1L149 991.1L149.5 991.1L149.6 991.1L150 991.1L150.5 991.1L151 991L151.5 991L152 991L152.5 991L153 991L153.5 990.9L154 990.9L154.5 990.9L155 990.9L155.5 990.9L156 990.9L156.5 990.8L157 990.8L157.5 990.8L158 990.8L158.5 990.8L159 990.7L159.5 990.7L160 990.7L160.5 990.7L161 990.7L161.5 990.6L162 990.6L162.5 990.6L163 990.6L163.5 990.6L164 990.5L164.5 990.5L165 990.5L165.5 990.5L166 990.5L166.5 990.4L167 990.4L167.5 990.4L168 990.4L168.5 990.4L169 990.3L169.5 990.3L170 990.3L170.5 990.3L171 990.3L171.5 990.2L172 990.2L172.5 990.2L173 990.2L173.5 990.2L174 990.1L174.5 990.1L175 990.1L175.5 990.1L176 990L176.5 990L177 990L177.5 990L178 990L178.5 989.9L179 989.9L179.5 989.9L180 989.9L180.5 989.9L181 989.8L181.5 989.8L182 989.8L182.5 989.8L183 989.8L183.5 989.7L184 989.7L184.5 989.7L185 989.7L185.5 989.6L186 989.6L186.5 989.6L187 989.6L187.5 989.6L188 989.5L188.5 989.5L189 989.5L189.5 989.5L190 989.4L190.5 989.4L191 989.4L191.5 989.4L192 989.3L192.5 989.3L193 989.3L193.5 989.3L194 989.3L194.5 989.2L195 989.2L195.5 989.2L196 989.2L196.5 989.1L197 989.1L197.5 989.1L198 989.1L198.5 989L199 989L199.5 989L200 989L200.5 988.9L201 988.9L201.5 988.9L202 988.9L202.5 988.8L203 988.8L203.5 988.8L204 988.8L204.5 988.7L205 988.7L205.5 988.7L206 988.7L206.5 988.6L207 988.6L207.5 988.6L208 988.6L208.5 988.5L209 988.5L209.1 988.5L209.5 988.5L210 988.5L210.5 988.4L211 988.4L211.5 988.4L212 988.3L212.5 988.3L213 988.3L213.5 988.3L214 988.2L214.5 988.2L215 988.2L215.5 988.2L216 988.1L216.5 988.1L217 988.1L217.5 988L218 988L218.5 988L219 988L219.5 987.9L220 987.9L220.5 987.9L221 987.8L221.5 987.8L222 987.8L222.5 987.8L223 987.7L223.5 987.7L224 987.7L224.5 987.6L225 987.6L225.5 987.6L226 987.5L226.5 987.5L227 987.5L227.5 987.5L228 987.4L228.5 987.4L229 987.4L229.5 987.3L230 987.3L230.5 987.3L231 987.2L231.5 987.2L232 987.2L232.5 987.1L233 987.1L233.5 987.1L234 987L234.5 987L235 987L235.5 986.9L236 986.9L236.5 986.9L237 986.8L237.5 986.8L238 986.8L238.5 986.7L239 986.7L239.5 986.7L240 986.6L240.5 986.6L241 986.6L241.5 986.5L242 986.5L242.5 986.5L243 986.4L243.5 986.4L244 986.4L244.5 986.3L245 986.3L245.5 986.3L246 986.2L246.5 986.2L247 986.1L247.5 986.1L248 986.1L248.5 986L249 986L249.5 986L250 985.9L250.5 985.9L251 985.8L251.5 985.8L252 985.8L252.5 985.7L253 985.7L253.5 985.6L254 985.6L254.5 985.6L255 985.5L255.5 985.5L256 985.4L256.5 985.4L257 985.4L257.5 985.3L258 985.3L258.5 985.2L259 985.2L259.5 985.2L260 985.1L260.2 985.1L260.5 985.1L261 985L261.5 985L262 984.9L262.5 984.9L263 984.9L263.5 984.8L264 984.8L264.5 984.7L265 984.7L265.5 984.6L266 984.6L266.5 984.5L267 984.5L267.5 984.5L268 984.4L268.5 984.4L269 984.3L269.5 984.3L270 984.2L270.5 984.2L271 984.1L271.5 984.1L272 984L272.5 984L273 983.9L273.5 983.9L274 983.8L274.5 983.8L275 983.7L275.5 983.7L276 983.6L276.5 983.6L277 983.5L277.5 983.5L278 983.4L278.5 983.4L279 983.3L279.5 983.3L280 983.2L280.5 983.1L281 983.1L281.5 983L282 983L282.5 982.9L283 982.9L283.5 982.8L284 982.8L284.5 982.7L285 982.6L285.5 982.6L286 982.5L286.5 982.5L287 982.4L287.5 982.4L288 982.3L288.5 982.2L289 982.2L289.5 982.1L290 982.1L290.5 982L291 981.9L291.5 981.9L292 981.8L292.5 981.7L293 981.7L293.5 981.6L294 981.6L294.5 981.5L295 981.4L295.5 981.4L296 981.3L296.5 981.2L297 981.2L297.5 981.1L298 981L298.5 981L299 980.9L299.5 980.8L300 980.8L300.5 980.7L301 980.6L301.5 980.6L302 980.5L302.5 980.4L303 980.3L303.5 980.3L304 980.2L304.5 980.1L305 980.1L305.5 980L306 979.9L306.5 979.8L307 979.8L307.5 979.7L308 979.6L308.5 979.5L309 979.5L309.5 979.4L310 979.3L310.5 979.2L311 979.1L311.3 979.1L311.5 979.1L312 979L312.5 978.9L313 978.8L313.5 978.7L314 978.7L314.5 978.6L315 978.5L315.5 978.4L316 978.3L316.5 978.2L317 978.1L317.5 978L318 977.9L318.5 977.8L319 977.7L319.5 977.6L320 977.5L320.5 977.4L321 977.3L321.5 977.2L322 977.1L322.5 977L323 976.9L323.5 976.8L324 976.7L324.5 976.6L325 976.5L325.5 976.4L326 976.3L326.5 976.1L327 976L327.5 975.9L328 975.8L328.5 975.7L329 975.6L329.5 975.5L330 975.3L330.5 975.2L331 975.1L331.5 975L332 974.9L332.5 974.7L333 974.6L333.5 974.5L334 974.4L334.5 974.3L335 974.1L335.5 974L336 973.9L336.5 973.8L337 973.6L337.5 973.5L338 973.4L338.5 973.3L339 973.1L339.5 973L340 972.9L340.5 972.7L341 972.6L341.5 972.5L342 972.4L342.5 972.2L343 972.1L343.5 972L344 971.8L344.5 971.7L345 971.6L345.3 971.5L345.5 971.4L346 971.3L346.5 971.2L347 971L347.5 970.9L348 970.8L348.5 970.6L349 970.5L349.5 970.3L350 970.2L350.5 970.1L351 969.9L351.5 969.8L352 969.6L352.5 969.5L353 969.3L353.5 969.2L354 969L354.5 968.9L355 968.7L355.5 968.6L356 968.4L356.5 968.2L357 968.1L357.5 967.9L358 967.8L358.5 967.6L359 967.5L359.5 967.3L360 967.1L360.5 967L361 966.8L361.5 966.7L362 966.5L362.5 966.3L363 966.2L363.5 966L364 965.9L364.5 965.7L365 965.5L365.5 965.4L366 965.2L366.5 965L367 964.9L367.5 964.7L368 964.5L368.5 964.4L369 964.2L369.5 964L370 963.9L370.5 963.7L371 963.5L371.5 963.3L372 963.2L372.5 963L373 962.8L373.5 962.7L374 962.5L374.5 962.3L375 962.1L375.5 962L376 961.8L376.5 961.6L377 961.4L377.5 961.3L378 961.1L378.5 960.9L379 960.7L379.4 960.6L379.5 960.6L380 960.4L380.5 960.2L381 960L381.5 959.9L382 959.7L382.5 959.5L383 959.3L383.5 959.2L384 959L384.5 958.8L385 958.6L385.5 958.5L386 958.3L386.5 958.1L387 957.9L387.5 957.7L388 957.6L388.5 957.4L389 957.2L389.5 957L390 956.9L390.5 956.7L391 956.5L391.5 956.3L392 956.1L392.5 956L393 955.8L393.5 955.6L394 955.4L394.5 955.2L395 955L395.5 954.9L396 954.7L396.5 954.5L397 954.3L397.5 954.1L398 953.9L398.5 953.8L399 953.6L399.5 953.4L400 953.2L400.5 953L401 952.8L401.5 952.6L402 952.5L402.5 952.3L403 952.1L403.5 951.9L404 951.7L404.5 951.5L405 951.3L405.5 951.2L406 951L406.5 950.8L407 950.6L407.5 950.4L408 950.2L408.5 950L409 949.8L409.5 949.7L410 949.5L410.5 949.3L411 949.1L411.5 948.9L412 948.7L412.5 948.5L413 948.3L413.5 948.1L414 947.9L414.5 947.7L415 947.5L415.5 947.3L416 947.1L416.5 946.9L417 946.7L417.5 946.5L418 946.3L418.5 946.1L419 945.9L419.5 945.7L420 945.5L420.5 945.3L421 945.1L421.5 944.9L422 944.6L422.5 944.4L423 944.2L423.5 944L424 943.7L424.5 943.5L425 943.3L425.5 943.1L426 942.8L426.5 942.6L427 942.4L427.5 942.1L428 941.9L428.2 941.8L428.5 941.7L429 941.4L429.5 941.2L430 940.9L430.5 940.7L431 940.5L431.5 940.2L432 940L432.5 939.7L433 939.5L433.5 939.2L434 939L434.5 938.7L435 938.5L435.5 938.2L436 938L436.5 937.7L437 937.5L437.5 937.2L438 937L438.5 936.7L439 936.4L439.5 936.2L440 935.9L440.5 935.7L440.6 935.6L441 935.4L441.5 935.1L442 934.9L442.5 934.6L443 934.3L443.5 934.1L444 933.8L444.5 933.5L445 933.3L445.5 933L446 932.7L446.5 932.5L447 932.2L447.5 931.9L448 931.6L448.5 931.4L449 931.1L449.5 930.8L450 930.5L450.5 930.2L451 929.9L451.5 929.6L452 929.3L452.5 929L452.9 928.8L453 928.7L453.5 928.4L454 928.1L454.5 927.8L455 927.5L455.5 927.2L456 926.9L456.5 926.6L457 926.2L457.5 925.9L458 925.6L458.5 925.3L459 924.9L459.5 924.6L460 924.3L460.5 923.9L461 923.6L461.5 923.2L462 922.9L462.5 922.5L463 922.2L463.5 921.8L464 921.5L464.5 921.1L465 920.7L465.2 920.6L465.5 920.4L466 920L466.5 919.6L467 919.3L467.5 918.9L468 918.5L468.5 918.2L469 917.8L469.5 917.4L470 917L470.5 916.6L471 916.2L471.5 915.9L472 915.5L472.5 915.1L473 914.6L473.5 914.2L474 913.8L474.5 913.4L475 913L475.5 912.5L476 912.1L476.5 911.6L477 911.2L477.5 910.7L477.6 910.6L478 910.2L478.5 909.7L479 909.2L479.5 908.7L480 908.2L480.5 907.7L481 907.2L481.5 906.6L482 906.1L482.5 905.5L483 905L483.5 904.4L484 903.8L484.5 903.2L485 902.6L485.5 902L486 901.4L486.5 900.8L487 900.1L487.5 899.5L488 898.8L488.5 898.2L489 897.5L489.5 896.8L490 896L490.5 895.3L491 894.5L491.5 893.8L492 893L492.5 892.2L493 891.4L493.5 890.7L494 889.9L494.5 889.1L495 888.3L495.5 887.5L496 886.7L496.5 886L497 885.2L497.5 884.4L498 883.7L498.5 882.9L499 882.2L499.5 881.4L500 880.6L500.5 879.7L501 878.8L501.5 877.9L502 877L502.5 876L503 874.9L503.5 873.8L504 872.6L504.5 871.3L505 870L505.5 868.6L506 867.2L506.5 865.8L507 864.4L507.5 863L508 861.6L508.5 860.3L508.6 860L509 858.9L509.5 857.7L510 856.4L510.5 855.1L511 853.9L511.5 852.6L512 851.3L512.5 850L513 848.6L513.5 847.1L514 845.6L514.4 844.3L514.5 844L515 842.2L515.5 840.4L516 838.4L516.5 836.4L517 834.2L517.5 832L518 829.8L518.5 827.5L519 825.1L519.5 822.8L520 820.4L520.5 818L521 815.5L521.5 812.9L522 810.2L522.5 807.5L523 804.8L523.5 802L524 799.2L524.5 796.4L525 793.6L525.5 790.9L526 788.1L526.5 785.3L527 782.5L527.5 779.7L528 776.9L528.5 774.1L529 771.3L529.5 768.4L530 765.5L530.5 762.6L531 759.6L531.5 756.6L532 753.5L532.5 750.5L533 747.3L533.5 744.1L534 740.9L534.5 737.6L535 734.2L535.5 730.7L536 727.2L536.5 723.7L537 720L537.5 716.2L538 712.4L538.5 708.5L538.6 707.7L539 704.4L539.5 700.2L540 695.8L540.5 691.2L541 686.4L541.5 681.5L542 676.4L542.5 671.3L543 666L543.5 660.6L544 655.1L544.5 649.6L545 644L545.5 638.3L546 632.6L546.5 626.9L547 621.2L547.5 615.4L547.8 612L548 609.7L548.5 603.9L549 598.1L549.5 592.3L550 586.3L550.5 580.4L551 574.3L551.5 568.3L552 562.1L552.5 555.9L553 549.7L553.5 543.4L554 537.1L554.5 530.7L555 524.3L555.5 517.8L556 511.3L556.5 504.7L557 498.1L557.5 491.4L558 484.7L558.5 478L559 471.2L559.5 464.3L560 457.4L560.5 450.5L561 443.5L561.5 436.5L562 429.4L562.5 422.3L562.8 418L563 415.1L563.5 407.8L564 400.3L564.5 392.6L565 384.8L565.5 376.9L566 368.9L566.5 360.8L567 352.6L567.5 344.3L568 336L568.5 327.6L569 319.3L569.5 311L570 302.6L570.5 294.3L571 286.1L571.5 277.9L572 269.8L572.5 261.9L573 254L573.5 246.3L574 238.7L574.5 231.2L575 224L575.5 216.8L576 209.6L576.5 202.5L577 195.4L577.5 188.5L578 181.8L578.5 175.2L579 169L579.5 163.1L580 157.6L580.5 152.4L581 147.4L581.5 142.7L582 138L582.5 133.6L583 129.3L583.5 125.1L584 121L584.5 116.9L585 112.9L585.5 108.9L586 105L586.4 101.8L586.5 101L587 97L587.5 93L588 89.1L588.5 85.3L589 81.6L589.5 78.2L590 75L590.5 72.1L591 69.4L591.5 66.9L592 64.4L592.5 61.9L593 59.2L593.5 56.6L593.8 55.3L594 54.6L594.5 53L594.8 52.4L595 52.1L595.5 51.6L595.7 51.5L596 51.6L596.5 52.3L596.6 52.4L597 53.3L597.5 55L597.6 55.3L598 56.7L598.5 58.7L599 61L599.2 61.9L599.5 63.4L600 66.1L600.5 69L601 72L601.5 75L602 78L602.5 80.9L603 83.8L603.5 86.8L604 89.9L604.5 93.3L605 96.9L605.5 100.9L605.6 101.8L606 105.5L606.5 110.8L607 116.6L607.5 123L608 129.7L608.5 136.7L609 143.7L609.5 150.7L610 157.6L610.5 164.4L611 171.2L611.5 178.1L612 185.2L612.5 192.3L613 199.6L613.5 207L614 214.6L614.5 222.4L614.6 224L615 230.4L615.5 238.6L616 247L616.5 255.6L617 264.3L617.5 273.1L618 282.1L618.5 291.2L619 300.4L619.5 309.7L620 319.1L620.5 328.5L621 338L621.5 347.6L622 357.1L622.5 366.7L623 376.2L623.5 385.8L624 395.3L624.5 404.8L625 414.2L625.2 418L625.5 423.7L626 433.2L626.5 442.9L627 452.6L627.5 462.5L628 472.4L628.5 482.4L629 492.4L629.5 502.4L630 512.4L630.5 522.3L631 532.2L631.5 542L632 551.7L632.5 561.3L633 570.8L633.5 580.1L634 589.2L634.5 598.2L635 606.9L635.3 612L635.5 615.4L636 623.8L636.5 632.3L637 640.8L637.5 649.3L638 657.7L638.5 666.1L639 674.4L639.5 682.7L640 690.9L640.5 699L641 707L641.5 714.9L642 722.7L642.5 730.4L643 737.9L643.5 745.2L644 752.3L644.5 759.3L645 766.1L645.5 772.7L646 779L646.5 785.2L647 791L647.5 796.7L648 802L648.5 806.9L649 811.4L649.5 815.6L650 819.6L650.5 823.7L651 828L651.1 828.9L651.5 832.6L652 837.5L652.5 842.6L653 847.7L653.5 852.9L654 858L654.5 863L655 867.9L655.5 872.4L656 876.7L656.2 878.3L656.5 880.6L657 884.4L657.5 888L658 891.5L658.5 894.9L659 898.2L659.5 901.4L660 904.4L660.5 907.4L661 910.4L661.5 913.2L662 916L662.1 916.6L662.5 918.8L663 921.4L663.5 923.9L664 926.3L664.5 928.7L665 931L665.5 933.3L666 935.6L666.5 938L667 940.3L667.2 941.3L667.5 942.8L668 945.4L668.5 947.9L669 950L669.5 951.7L670 953.2L670.5 954.6L671 956L671.5 957.2L672 958.4L672.5 959.6L673 960.8L673.5 962L673.6 962.3L674 963.4L674.5 964.7L675 966L675.5 967.4L676 968.7L676.5 970L677 971.3L677.5 972.5L677.7 973L678 973.7L678.5 974.9L679 976.1L679.5 977.2L680 978.4L680.5 979.5L681 980.6L681.5 981.6L682 982.6L682.5 983.6L683 984.5L683.5 985.4L684 986.2L684.5 987.1L685 987.9L685.5 988.7L686 989.4L686.5 990.2L687 990.9L687.5 991.6L688 992.3L688.5 993L689 993.6L689.5 994.3L689.6 994.4L690 994.9L690.5 995.5L691 996.1L691.5 996.7L692 997.3L692.5 997.9L693 998.5L693.5 999L694 999.6L694.5 1000.1L695 1000.6L695.5 1001.1L696 1001.6L696.5 1002.1L697 1002.6L697.5 1003.1L698 1003.5L698.5 1004L699 1004.4L699.5 1004.8L700 1005.3L700.5 1005.7L701 1006.1L701.5 1006.5L702 1006.9L702.5 1007.3L703 1007.7L703.5 1008.1L704 1008.5L704.5 1008.8L705 1009.2L705.5 1009.6L706 1009.9L706.1 1010L706.5 1010.3L707 1010.6L707.5 1011L708 1011.4L708.5 1011.7L709 1012.1L709.5 1012.4L710 1012.7L710.5 1013.1L711 1013.4L711.5 1013.8L712 1014.1L712.5 1014.4L713 1014.7L713.5 1015L714 1015.3L714.5 1015.7L715 1016L715.5 1016.2L716 1016.5L716.5 1016.8L717 1017.1L717.5 1017.3L717.6 1017.4L718 1017.6L718.5 1017.9L719 1018.1L719.5 1018.4L720 1018.6L720.5 1018.9L721 1019.1L721.5 1019.3L722 1019.6L722.5 1019.8L723 1020L723.5 1020.2L724 1020.5L724.5 1020.7L725 1020.9L725.5 1021.1L726 1021.3L726.5 1021.5L727 1021.7L727.5 1021.9L728 1022.1L728.5 1022.3L729 1022.5L729.5 1022.7L729.9 1022.8L730 1022.8L730.5 1023L731 1023.2L731.5 1023.4L732 1023.5L732.5 1023.7L733 1023.9L733.5 1024L734 1024.2L734.5 1024.3L735 1024.5L735.5 1024.6L736 1024.8L736.5 1024.9L737 1025.1L737.5 1025.2L738 1025.4L738.5 1025.5L739 1025.6L739.5 1025.8L740 1025.9L740.5 1026.1L741 1026.2L741.5 1026.3L742 1026.4L742.2 1026.5L742.5 1026.6L743 1026.7L743.5 1026.8L744 1027L744.5 1027.1L745 1027.2L745.5 1027.3L746 1027.5L746.5 1027.6L747 1027.7L747.5 1027.8L748 1028L748.5 1028.1L749 1028.2L749.5 1028.3L750 1028.4L750.5 1028.5L751 1028.7L751.5 1028.8L752 1028.9L752.5 1029L753 1029.1L753.5 1029.2L754 1029.3L754.5 1029.4L755 1029.5L755.5 1029.6L756 1029.7L756.5 1029.8L757 1029.9L757.5 1030L758 1030.1L758.5 1030.2L758.7 1030.2L759 1030.3L759.5 1030.3L760 1030.4L760.5 1030.5L761 1030.6L761.5 1030.7L762 1030.7L762.5 1030.8L763 1030.9L763.5 1031L764 1031.1L764.5 1031.1L765 1031.2L765.5 1031.3L766 1031.3L766.5 1031.4L767 1031.5L767.5 1031.6L768 1031.6L768.5 1031.7L769 1031.8L769.5 1031.8L770 1031.9L770.5 1032L771 1032L771.5 1032.1L772 1032.2L772.5 1032.2L773 1032.3L773.5 1032.3L774 1032.4L774.5 1032.5L775 1032.5L775.5 1032.6L776 1032.6L776.5 1032.7L777 1032.8L777.5 1032.8L778 1032.9L778.5 1032.9L779 1033L779.5 1033L780 1033.1L780.5 1033.2L781 1033.2L781.5 1033.3L782 1033.3L782.5 1033.4L783 1033.4L783.5 1033.5L784 1033.5L784.5 1033.6L785 1033.6L785.5 1033.7L786 1033.7L786.5 1033.8L787 1033.8L787.5 1033.9L788 1034L788.5 1034L789 1034.1L789.5 1034.1L790 1034.2L790.5 1034.2L791 1034.3L791.5 1034.3L792 1034.4L792.5 1034.4L793 1034.5L793.5 1034.5L794 1034.6L794.5 1034.6L795 1034.6L795.5 1034.7L796 1034.7L796.5 1034.8L797 1034.8L797.5 1034.9L798 1034.9L798.5 1035L799 1035L799.5 1035.1L800 1035.1L800.5 1035.1L801 1035.2L801.5 1035.2L802 1035.3L802.5 1035.3L803 1035.4L803.5 1035.4L804 1035.4L804.5 1035.5L805 1035.5L805.5 1035.6L806 1035.6L806.5 1035.6L807 1035.7L807.5 1035.7L808 1035.7L808.5 1035.8L809 1035.8L809.5 1035.8L810 1035.9L810.5 1035.9L811 1035.9L811.5 1036L812 1036L812.5 1036L813 1036.1L813.5 1036.1L814 1036.1L814.5 1036.2L815 1036.2L815.3 1036.2L815.5 1036.2L816 1036.2L816.5 1036.3L817 1036.3L817.5 1036.3L818 1036.3L818.5 1036.4L819 1036.4L819.5 1036.4L820 1036.4L820.5 1036.5L821 1036.5L821.5 1036.5L822 1036.5L822.5 1036.6L823 1036.6L823.5 1036.6L824 1036.6L824.5 1036.6L825 1036.7L825.5 1036.7L826 1036.7L826.5 1036.7L827 1036.7L827.5 1036.8L828 1036.8L828.5 1036.8L829 1036.8L829.5 1036.8L830 1036.9L830.5 1036.9L831 1036.9L831.5 1036.9L832 1036.9L832.5 1037L833 1037L833.5 1037L834 1037L834.5 1037L835 1037L835.5 1037.1L836 1037.1L836.5 1037.1L837 1037.1L837.5 1037.1L838 1037.2L838.5 1037.2L839 1037.2L839.5 1037.2L840 1037.2L840.5 1037.2L841 1037.2L841.5 1037.3L842 1037.3L842.5 1037.3L843 1037.3L843.5 1037.3L844 1037.3L844.5 1037.4L845 1037.4L845.5 1037.4L846 1037.4L846.5 1037.4L847 1037.4L847.5 1037.4L848 1037.5L848.5 1037.5L849 1037.5L849.4 1037.5L849.5 1037.5L850 1037.5L850.5 1037.5L851 1037.5L851.5 1037.6L852 1037.6L852.5 1037.6L853 1037.6L853.5 1037.6L854 1037.6L854.5 1037.6L855 1037.7L855.5 1037.7L856 1037.7L856.5 1037.7L857 1037.7L857.5 1037.7L858 1037.7L858.5 1037.8L859 1037.8L859.5 1037.8L860 1037.8L860.5 1037.8L861 1037.8L861.5 1037.8L862 1037.8L862.5 1037.9L863 1037.9L863.5 1037.9L864 1037.9L864.5 1037.9L865 1037.9L865.5 1037.9L866 1037.9L866.5 1038L867 1038L867.5 1038L868 1038L868.5 1038L869 1038L869.5 1038L870 1038L870.5 1038L871 1038.1L871.5 1038.1L872 1038.1L872.5 1038.1L873 1038.1L873.5 1038.1L874 1038.1L874.5 1038.1L875 1038.1L875.5 1038.1L876 1038.1L876.5 1038.2L877 1038.2L877.5 1038.2L878 1038.2L878.5 1038.2L879 1038.2L879.5 1038.2L880 1038.2L880.5 1038.2L881 1038.2L881.5 1038.2L882 1038.2L882.5 1038.2L883 1038.2L883.5 1038.2L884 1038.3L884.5 1038.3L885 1038.3L885.5 1038.3L886 1038.3L886.5 1038.3L887 1038.3L887.5 1038.3L888 1038.3L888.5 1038.3L889 1038.3L889.5 1038.3L890 1038.3L890.5 1038.3L891 1038.3L891.5 1038.3L892 1038.3L892.5 1038.3L893 1038.4L893.5 1038.4L894 1038.4L894.5 1038.4L895 1038.4L895.5 1038.4L896 1038.4L896.5 1038.4L897 1038.4L897.5 1038.4L898 1038.4L898.5 1038.4L899 1038.4L899.5 1038.4L900 1038.4L900.5 1038.4L901 1038.4L901.5 1038.4L902 1038.4L902.5 1038.4L903 1038.4L903.5 1038.5L904 1038.5L904.5 1038.5L905 1038.5L905.5 1038.5L906 1038.5L906.5 1038.5L907 1038.5L907.5 1038.5L908 1038.5L908.5 1038.5L909 1038.5L909.5 1038.5L910 1038.5L910.5 1038.5L911 1038.5L911.5 1038.5L912 1038.5L912.5 1038.5L913 1038.5L913.5 1038.5L914 1038.5L914.5 1038.5" fill="none" stroke="#e31e24" stroke-width="4.4" stroke-linejoin="round"/>
<rect x="92" y="28.4" width="823.1" height="1036.5" fill="none" stroke="#000" stroke-width="4.2"/>
</g>
<g id="sem">
<defs><clipPath id="semclip"><rect x="104.6" y="41" width="447.6" height="304.7"/></clipPath><filter id="fbig" filterUnits="userSpaceOnUse" x="80" y="20" width="500" height="350" color-interpolation-filters="sRGB"><feGaussianBlur stdDeviation="14"/></filter><filter id="fmid" filterUnits="userSpaceOnUse" x="80" y="20" width="500" height="350" color-interpolation-filters="sRGB"><feGaussianBlur stdDeviation="6"/></filter><filter id="fhole" filterUnits="userSpaceOnUse" x="80" y="20" width="500" height="350" color-interpolation-filters="sRGB"><feGaussianBlur stdDeviation="2.2"/></filter><filter id="fglow" filterUnits="userSpaceOnUse" x="80" y="20" width="500" height="350" color-interpolation-filters="sRGB"><feGaussianBlur stdDeviation="3"/></filter><filter id="fcore" filterUnits="userSpaceOnUse" x="80" y="20" width="500" height="350" color-interpolation-filters="sRGB"><feGaussianBlur stdDeviation="1.0"/></filter></defs>
<g clip-path="url(#semclip)">
<rect x="100" y="36" width="460" height="316" fill="#414141"/>
<g filter="url(#fbig)"><path d="M100.0 165.9L139.0 171.1L136.4 352.0L100.0 352.0Z" fill="#0c0c0c" fill-opacity="0.35"/><path d="M495.0 134.8L552.2 145.1L552.2 243.9L505.4 233.5Z" fill="#fff" fill-opacity="0.035"/><path d="M178.0 233.5L261.1 228.3L333.9 243.9L339.1 342.7L178.0 345.3Z" fill="#0c0c0c" fill-opacity="0.12"/><path d="M328.7 134.8L385.9 145.1L419.6 171.1L424.8 233.5L359.9 243.9L333.9 217.9Z" fill="#0c0c0c" fill-opacity="0.14"/><path d="M271.5 80.2L333.9 101.0L328.7 134.8L281.9 121.8Z" fill="#0c0c0c" fill-opacity="0.16"/></g>
<g filter="url(#fmid)"><path d="M100.0 36.0L178.0 36.0L168.1 88.0L158.5 140.0L149.4 191.9L141.6 243.9L137.7 295.9L139.0 352.0L100.0 352.0Z" fill="#0c0c0c" fill-opacity="0.62"/><path d="M100.0 36.0L174.1 36.0L165.0 98.4L131.2 121.8L100.0 145.1Z" fill="#0c0c0c" fill-opacity="0.22"/><path d="M489.8 181.5L553.5 160.7L553.5 259.5L505.4 256.9Z" fill="#fff" fill-opacity="0.07"/><path d="M235.1 181.5L245.5 176.3L242.4 217.9L255.9 233.5L235.1 223.1Z" fill="#fff" fill-opacity="0.06"/><path d="M105.2 134.8L131.2 114.0L165.0 101.0L162.4 121.8L126.0 145.1Z" fill="#fff" fill-opacity="0.12"/><path d="M139.0 43.8L175.4 43.8L165.0 95.8L152.0 88.0Z" fill="#fff" fill-opacity="0.06"/><path d="M411.9 41.2L510.6 41.2L557.4 93.2L557.4 259.5L505.4 251.7L500.2 202.3L482.0 171.1L474.2 137.4L445.6 101.0Z" fill="#0c0c0c" fill-opacity="0.66"/><path d="M445.6 56.8L484.6 54.2L495.0 88.0L463.8 103.6L448.2 85.4Z" fill="#000" fill-opacity="0.45"/><path d="M509.3 41.2L557.4 41.2L557.4 94.5Z" fill="#fff" fill-opacity="0.17"/><path d="M539.2 251.7L557.4 243.9L557.4 352.0L515.8 352.0Z" fill="#0c0c0c" fill-opacity="0.45"/><path d="M328.7 301.1L349.5 285.5L349.5 327.1L333.9 329.7Z" fill="#0c0c0c" fill-opacity="0.25"/><path d="M168.1 88.0L158.5 140.0L149.4 191.9L141.6 243.9L137.7 295.9L139.0 347.9L159.8 347.9L159.8 269.9L167.6 204.9L178.0 145.1L185.8 103.6Z" fill="#fff" fill-opacity="0.1"/><path d="M178.0 46.4L261.1 43.8L359.9 64.6L380.7 95.8L333.9 101.0L266.3 77.6L209.1 88.0L185.8 101.0Z" fill="#fff" fill-opacity="0.085"/><path d="M359.9 67.2L406.7 46.4L437.8 93.2L471.6 137.4L482.0 181.5L474.2 233.5L437.8 202.3L419.6 160.7L388.5 114.0Z" fill="#fff" fill-opacity="0.075"/><path d="M427.4 202.3L474.2 181.5L497.6 217.9L489.8 256.9L458.6 249.1Z" fill="#fff" fill-opacity="0.08"/><path d="M198.8 134.8L261.1 152.9L287.1 162.0L261.1 165.9L245.5 181.5L209.1 158.1Z" fill="#fff" fill-opacity="0.07"/><path d="M287.1 254.3L323.5 215.3L333.9 181.5L349.5 217.9L333.9 269.9L315.7 269.9Z" fill="#fff" fill-opacity="0.07"/><path d="M281.9 259.5L359.9 293.3L406.7 316.7L359.9 311.5L307.9 285.5Z" fill="#fff" fill-opacity="0.08"/><path d="M385.9 259.5L489.8 256.9L526.2 217.9L539.2 249.1L489.8 295.9L411.9 295.9Z" fill="#fff" fill-opacity="0.06"/></g>
<g filter="url(#fhole)"><path d="M245.5 181.5L261.1 165.9L287.1 162.8L313.1 175.0L328.2 194.5L323.5 215.3L311.0 229.6L266.3 223.6L242.4 202.3Z" fill="#0e0e0e" fill-opacity="0.9"/><path d="M346.4 287.6L359.9 284.2L373.4 286.0L374.9 321.9L357.3 325.0L348.2 308.9Z" fill="#080808" fill-opacity="0.8"/></g>
<g filter="url(#fglow)" fill="none" stroke="#fff" stroke-linecap="round"><path d="M170.2 46.4Q165.5 88.0 161.1 114.0Q156.7 140.0 152.0 165.9Q147.3 191.9 144.0 217.9Q140.8 243.9 138.7 269.9Q136.6 295.9 139.0 342.7" stroke-width="8" stroke-opacity="0.54"/><path d="M138.2 277.7Q136.6 301.1 137.3 312.8Q137.9 324.5 139.5 342.7" stroke-width="5" stroke-opacity="0.3"/><path d="M144.2 51.6Q155.9 82.8 160.4 93.2Q165.0 103.6 175.4 124.4Q185.8 145.1 194.9 176.3" stroke-width="5.6" stroke-opacity="0.3"/><path d="M178.0 51.6Q185.8 80.2 167.6 103.6" stroke-width="5.6" stroke-opacity="0.17"/><path d="M107.8 140.0Q131.2 121.8 146.8 111.4Q162.4 101.0 209.1 85.4" stroke-width="6.4" stroke-opacity="0.226"/><path d="M110.4 158.1Q107.8 181.5 115.6 204.9" stroke-width="4" stroke-opacity="0.28"/><path d="M178.0 54.2Q216.9 51.6 255.9 46.4" stroke-width="6.4" stroke-opacity="0.255"/><path d="M261.1 121.8Q268.9 145.1 292.3 163.3" stroke-width="6" stroke-opacity="0.3"/><path d="M198.8 134.8Q229.9 140.0 245.5 146.4Q261.1 152.9 287.1 162.0" stroke-width="7.2" stroke-opacity="0.208"/><path d="M287.1 162.8Q313.1 174.3 328.7 193.2" stroke-width="5" stroke-opacity="0.375"/><path d="M245.5 181.5Q240.9 197.1 245.5 214.0" stroke-width="4" stroke-opacity="0.39"/><path d="M235.1 212.7L248.1 229.6" stroke-width="4" stroke-opacity="0.37"/><path d="M266.3 223.6L310.5 230.1" stroke-width="4" stroke-opacity="0.298"/><path d="M245.5 181.5Q261.1 165.9 287.1 162.8" stroke-width="4" stroke-opacity="0.325"/><path d="M332.1 181.5Q326.1 207.5 320.2 220.5Q314.4 233.5 287.1 254.8" stroke-width="6" stroke-opacity="0.45"/><path d="M287.1 254.8Q315.7 269.9 337.8 281.6Q359.9 293.3 374.2 299.8Q388.5 306.3 406.7 316.7" stroke-width="5" stroke-opacity="0.3"/><path d="M326.1 132.2Q333.9 181.5 330.0 217.9" stroke-width="6.4" stroke-opacity="0.132"/><path d="M281.9 256.9Q297.5 238.7 307.9 229.6" stroke-width="4" stroke-opacity="0.37"/><path d="M253.3 217.9Q209.1 249.1 187.1 272.5Q165.0 295.9 139.0 321.9" stroke-width="7.2" stroke-opacity="0.132"/><path d="M209.1 181.5Q178.0 223.1 162.4 269.9" stroke-width="7.2" stroke-opacity="0.104"/><path d="M315.7 269.9Q305.3 308.9 297.5 342.7" stroke-width="6.4" stroke-opacity="0.15"/><path d="M328.7 49.0Q359.9 69.8 385.9 91.1" stroke-width="5" stroke-opacity="0.33"/><path d="M387.2 45.9Q372.9 58.1 359.9 68.5" stroke-width="5" stroke-opacity="0.45"/><path d="M359.9 68.5Q380.7 103.6 389.0 114.0" stroke-width="4" stroke-opacity="0.345"/><path d="M406.7 46.4Q437.8 93.7 450.8 109.0Q463.8 124.4 469.3 132.4Q474.7 140.5 478.4 161.0Q482.0 181.5 474.2 202.3" stroke-width="6" stroke-opacity="0.42"/><path d="M445.6 104.1Q463.8 124.4 474.2 139.4" stroke-width="5" stroke-opacity="0.3"/><path d="M463.8 160.7Q461.2 202.3 465.1 217.9Q469.0 233.5 484.6 259.5" stroke-width="5" stroke-opacity="0.3"/><path d="M437.8 202.3Q450.8 233.5 456.5 245.2" stroke-width="4" stroke-opacity="0.27"/><path d="M474.2 140.5Q495.0 181.5 497.9 199.7Q500.7 217.9 489.8 257.4" stroke-width="5.6" stroke-opacity="0.282"/><path d="M474.2 145.1Q476.8 181.5 474.2 217.9" stroke-width="4" stroke-opacity="0.37"/><path d="M430.0 197.1Q437.8 217.9 443.0 233.5" stroke-width="4" stroke-opacity="0.325"/><path d="M505.4 43.8Q528.8 69.8 552.7 93.7" stroke-width="6" stroke-opacity="0.525"/><path d="M505.4 217.9Q528.8 212.7 552.2 202.3" stroke-width="4.8" stroke-opacity="0.3"/><path d="M495.0 259.5Q521.0 254.3 552.2 243.9" stroke-width="4.8" stroke-opacity="0.345"/><path d="M487.2 258.2Q437.8 271.2 380.7 295.9" stroke-width="5" stroke-opacity="0.3"/><path d="M487.2 258.2Q474.2 277.7 463.8 295.9" stroke-width="5" stroke-opacity="0.225"/><path d="M458.6 254.3Q487.2 258.2 526.2 262.1" stroke-width="5" stroke-opacity="0.225"/><path d="M531.4 285.5Q515.8 298.5 500.2 314.1" stroke-width="5" stroke-opacity="0.3"/><path d="M541.8 259.5Q539.2 295.9 515.8 334.9" stroke-width="5.6" stroke-opacity="0.3"/><path d="M419.6 332.3L409.3 342.7" stroke-width="4" stroke-opacity="0.18"/><path d="M521.0 332.3L495.0 342.7" stroke-width="4" stroke-opacity="0.39"/><path d="M326.1 280.3Q349.5 284.2 375.5 293.3" stroke-width="6.4" stroke-opacity="0.34"/></g>
<g filter="url(#fcore)" fill="none" stroke="#fff" stroke-linecap="round"><path d="M170.2 46.4Q165.5 88.0 161.1 114.0Q156.7 140.0 152.0 165.9Q147.3 191.9 144.0 217.9Q140.8 243.9 138.7 269.9Q136.6 295.9 139.0 342.7" stroke-width="2.43" stroke-opacity="0.54"/><path d="M160.3 119.2Q158.7 132.2 156.7 145.1" stroke-width="2.43" stroke-opacity="0.675"/><path d="M138.2 277.7Q136.6 301.1 137.3 312.8Q137.9 324.5 139.5 342.7" stroke-width="2.43" stroke-opacity="0.765"/><path d="M261.1 121.8Q268.9 145.1 292.3 163.3" stroke-width="2.025" stroke-opacity="0.36"/><path d="M287.1 162.8Q313.1 174.3 328.7 193.2" stroke-width="2.16" stroke-opacity="0.495"/><path d="M332.1 181.5Q326.1 207.5 320.2 220.5Q314.4 233.5 287.1 254.8" stroke-width="2.7" stroke-opacity="0.81"/><path d="M287.1 254.8Q315.7 269.9 337.8 281.6Q359.9 293.3 374.2 299.8Q388.5 306.3 406.7 316.7" stroke-width="2.025" stroke-opacity="0.45"/><path d="M328.7 49.0Q359.9 69.8 385.9 91.1" stroke-width="2.16" stroke-opacity="0.54"/><path d="M370.3 80.2L387.2 91.9" stroke-width="2.16" stroke-opacity="0.54"/><path d="M387.2 45.9Q372.9 58.1 359.9 68.5" stroke-width="2.7" stroke-opacity="0.81"/><path d="M406.7 46.4Q437.8 93.7 450.8 109.0Q463.8 124.4 469.3 132.4Q474.7 140.5 478.4 161.0Q482.0 181.5 474.2 202.3" stroke-width="2.16" stroke-opacity="0.45"/><path d="M445.6 104.1Q463.8 124.4 474.2 139.4" stroke-width="2.97" stroke-opacity="0.855"/><path d="M463.8 160.7Q461.2 202.3 465.1 217.9Q469.0 233.5 484.6 259.5" stroke-width="2.025" stroke-opacity="0.495"/><path d="M461.7 189.3Q463.3 212.7 469.0 232.2" stroke-width="2.16" stroke-opacity="0.63"/><path d="M437.8 202.3Q450.8 233.5 456.5 245.2" stroke-width="2.16" stroke-opacity="0.63"/><path d="M505.4 43.8Q528.8 69.8 552.7 93.7" stroke-width="2.7" stroke-opacity="0.81"/><path d="M510.6 43.8Q534.0 68.5 552.7 86.7" stroke-width="1.755" stroke-opacity="0.45"/><path d="M487.2 258.2Q437.8 271.2 380.7 295.9" stroke-width="2.16" stroke-opacity="0.54"/><path d="M487.2 258.2Q474.2 277.7 463.8 295.9" stroke-width="2.025" stroke-opacity="0.405"/><path d="M458.6 254.3Q487.2 258.2 526.2 262.1" stroke-width="2.025" stroke-opacity="0.405"/><path d="M531.4 285.5Q515.8 298.5 500.2 314.1" stroke-width="2.43" stroke-opacity="0.675"/><path d="M419.6 332.3L409.3 342.7" stroke-width="2.025" stroke-opacity="0.36"/></g>
<rect x="374" y="255.8" width="163" height="76" fill="#fff" fill-opacity="0.45"/>
</g>
<rect x="402.7" y="309.7" width="103.8" height="16.2" fill="#000"/>
<text x="383.7" y="296.4" font-size="46" font-family='"Liberation Sans", Arial, Helvetica, sans-serif' fill="#000">0.5 µm</text>
<text x="123.6" y="94" font-size="46.4" font-family='"Liberation Sans", Arial, Helvetica, sans-serif' fill="#fff">SEM</text>
<rect x="104.6" y="41" width="447.6" height="304.7" fill="none" stroke="#000" stroke-width="4.2"/>
</g>
<g id="panelB">
<path d="M1440 1003L1455 800L1459.8 737.5L1462.2 707.7L1467 659.9L1472 612L1480.5 497.8L1486.3 418L1490.1 359.6L1494.1 303.8L1498.9 263.9L1505.3 224L1507.3 206.3L1510.2 214L1514 224L1518.8 263.9L1522.8 303.8L1526.8 359.6L1530 418L1535.6 497.8L1541.2 612L1545.9 691.8L1551.5 755.6L1554.6 803L1557.9 825.5L1563 868.1L1568.9 910.6L1574 941L1578.3 962.1L1584.7 977L1593.2 994.3L1600 1043Z" fill="#009fe3"/>
<path d="M999 987.6L1000.5 987.6L1002 987.5L1003.5 987.5L1005 987.4L1006.5 987.4L1008 987.3L1009.5 987.3L1011 987.2L1012.5 987.2L1014 987.1L1015.5 987.1L1017 987L1018.5 986.9L1020 986.9L1021.5 986.8L1023 986.8L1024.5 986.7L1026 986.6L1027.5 986.6L1029 986.5L1030.5 986.4L1032 986.4L1033.5 986.3L1035 986.2L1036.5 986.2L1038 986.1L1039.5 986L1041 986L1042.5 985.9L1044 985.8L1045.5 985.7L1047 985.7L1048.5 985.6L1050 985.5L1051.5 985.4L1053 985.4L1054.5 985.3L1056 985.2L1057.5 985.1L1058.1 985.1L1059 985.1L1060.5 985L1062 984.9L1063.5 984.8L1065 984.7L1066.5 984.6L1068 984.6L1069.5 984.5L1071 984.4L1072.5 984.3L1074 984.2L1075.5 984.1L1077 984L1078.5 983.9L1080 983.8L1081.5 983.7L1083 983.6L1084.5 983.5L1086 983.4L1087.5 983.3L1089 983.2L1090.5 983.1L1092 983L1093.5 982.9L1095 982.8L1096.5 982.7L1098 982.6L1099.5 982.4L1101 982.3L1102.5 982.2L1104 982.1L1105.5 982L1107 981.9L1108.5 981.7L1109.1 981.7L1110 981.6L1111.5 981.5L1113 981.4L1114.5 981.3L1116 981.1L1117.5 981L1119 980.9L1120.5 980.7L1122 980.6L1123.5 980.5L1125 980.3L1126.5 980.2L1128 980L1129.5 979.9L1131 979.7L1132.5 979.6L1134 979.4L1135.5 979.3L1137 979.1L1138.5 979L1140 978.8L1141.5 978.7L1143 978.5L1144.5 978.3L1146 978.2L1147.5 978L1149 977.9L1150.5 977.7L1152 977.5L1153.5 977.4L1155 977.2L1156.5 977L1158 976.9L1159.5 976.7L1160.2 976.6L1161 976.5L1162.5 976.3L1164 976.2L1165.5 976L1167 975.8L1168.5 975.6L1170 975.4L1171.5 975.2L1173 975.1L1174.5 974.9L1176 974.7L1177.5 974.5L1179 974.3L1180.5 974.1L1182 973.9L1183.5 973.7L1185 973.5L1186.5 973.3L1188 973.1L1189.5 972.9L1191 972.7L1192.5 972.4L1194 972.2L1195.5 972L1197 971.8L1198.5 971.6L1200 971.4L1201.5 971.2L1203 971L1204.5 970.8L1206 970.6L1207.5 970.3L1209 970.1L1210.5 969.9L1211.3 969.8L1212 969.7L1213.5 969.5L1215 969.3L1216.5 969.1L1218 968.9L1219.5 968.7L1221 968.5L1222.5 968.3L1224 968L1225.5 967.8L1227 967.6L1228.5 967.4L1230 967.2L1231.5 967L1233 966.8L1234.5 966.5L1236 966.3L1237.5 966.1L1239 965.8L1240.5 965.6L1242 965.3L1243.5 965L1245 964.8L1245.3 964.7L1246.5 964.5L1248 964.2L1249.5 963.9L1251 963.6L1252.5 963.3L1254 962.9L1255.5 962.6L1257 962.3L1258.5 961.9L1260 961.5L1261.5 961.2L1263 960.8L1264.5 960.4L1266 960L1267.5 959.6L1269 959.2L1270.5 958.8L1272 958.4L1273.5 958L1275 957.5L1276.5 957.1L1278 956.6L1279.4 956.2L1279.5 956.2L1281 955.7L1282.5 955.2L1284 954.7L1285.5 954.2L1287 953.6L1288.5 953.1L1290 952.5L1291.5 951.9L1293 951.3L1294.5 950.7L1296 950L1297.5 949.4L1299 948.7L1300 948.3L1300.5 948.1L1302 947.4L1303.5 946.7L1305 946L1306.5 945.3L1308 944.5L1309.5 943.7L1311 942.8L1312.5 942L1313.6 941.3L1314 941L1315.5 940.1L1317 939L1318.5 937.9L1320 936.8L1321.5 935.6L1323 934.3L1324.5 933.1L1326 931.8L1327.5 930.4L1329 929.1L1330.5 927.8L1330.6 927.7L1332 926.4L1333.5 925.1L1335 923.7L1336.5 922.2L1338 920.8L1339.5 919.3L1341 917.7L1342.5 916.2L1344 914.6L1345.5 913L1347 911.4L1347.7 910.6L1348.5 909.7L1350 908L1351.5 906.3L1353 904.5L1354.5 902.8L1356 900.9L1357.5 899.1L1359 897.2L1360.5 895.2L1362 893.2L1363 891.9L1363.5 891.2L1365 889.2L1366.5 887.1L1368 885L1369.5 882.8L1371 880.5L1372.5 878.2L1374 875.8L1375.5 873.4L1376.6 871.5L1377 870.8L1378.5 868.1L1380 865.3L1381.5 862.5L1383 859.5L1384.5 856.4L1386 853.2L1387.5 849.9L1388.5 847.7L1389 846.6L1390.5 843.1L1392 839.4L1393.5 835.6L1395 831.7L1396.5 827.8L1398 823.9L1398.7 822.1L1399.5 820L1401 816.1L1402.5 812.1L1404 808.1L1405.5 804.2L1406 803L1407 800.6L1408.5 796.9L1410 793.4L1411.5 789.9L1413 786.5L1414.5 783.1L1416 779.8L1417.5 776.5L1418.3 774.8L1419 773.3L1420.5 770.2L1422 767.1L1423.5 764L1425 761.1L1426.5 758.2L1427.9 755.6L1428 755.4L1429.5 752.6L1431 749.8L1432.5 747.1L1434 744.5L1435.5 742.2L1437 740.1L1437.4 739.6L1438.5 738.3L1440 736.6L1441.5 735.2L1443 734.2L1444.5 733.5L1446 733L1447.5 732.6L1448.6 732.5L1449 732.5L1450.5 732.8L1452 733.2L1453.5 733.8L1454 734L1455 734.4L1456.5 735.3L1458 736.4L1459.5 737.7L1459.8 738L1461 739.4L1462.5 741.6L1464 744.3L1465.5 747.3L1467 750.5L1468.5 753.7L1469.4 755.6L1470 756.9L1471.5 760.2L1473 763.7L1474.5 767.4L1476 771.3L1477.3 774.8L1477.5 775.4L1479 779.7L1480.5 784.4L1482 789.3L1483.5 794.2L1485 799.2L1486.2 803L1486.5 803.9L1488 808.7L1489.5 813.4L1491 818.1L1492.3 822.1L1492.5 822.7L1494 827.3L1495.5 831.8L1497 836.3L1498.5 840.7L1500 845.1L1500.9 847.7L1501.5 849.4L1503 853.8L1504.5 858.2L1506 862.5L1507.5 866.7L1509 870.9L1510.5 875L1511.1 876.6L1512 879L1513.5 882.9L1515 886.8L1516.5 890.6L1518 894.4L1519.5 898L1521 901.4L1521.3 902.1L1522.5 904.8L1524 908.1L1525.5 911.3L1527 914.4L1528.5 917.5L1530 920.4L1531.5 923.3L1533 926.1L1534.5 928.7L1534.9 929.4L1536 931.2L1537.5 933.5L1539 935.6L1540.5 937.8L1542 940L1542.6 941L1543.5 942.5L1545 945.3L1546.5 948.1L1548 950.7L1548.5 951.5L1549.5 953L1551 955.2L1552.5 957.3L1554 959.2L1555.5 961.2L1556.2 962.1L1557 963.1L1558.5 965.1L1560 967L1561.5 968.9L1563 970.7L1564.5 972.4L1565.5 973.5L1566 974L1567.5 975.6L1569 977.1L1570.5 978.5L1572 979.9L1573.2 980.9L1573.5 981.1L1575 982.4L1576.5 983.6L1578 984.7L1579.5 985.9L1581 986.9L1582.5 988L1584 989L1585.5 990L1587 990.9L1588.5 991.8L1589.4 992.3L1590 992.6L1591.5 993.4L1593 994.2L1594.5 994.9L1596 995.6L1597.5 996.3L1599 996.9L1600.5 997.6L1602 998.2L1603.5 998.8L1605 999.4L1606.5 1000L1608 1000.6L1609.5 1001.2L1611 1001.9L1612.5 1002.5L1614 1003.2L1614.9 1003.6L1615.5 1003.9L1617 1004.6L1618.5 1005.3L1620 1006.1L1621.5 1006.8L1623 1007.5L1624.3 1008.1L1624.5 1008.2L1626 1008.9L1627.5 1009.5L1629 1010.2L1630.5 1010.9L1632 1011.6L1633.5 1012.3L1635 1012.9L1636.5 1013.6L1638 1014.3L1639.5 1014.9L1641 1015.6L1642.5 1016.2L1644 1016.9L1645.5 1017.5L1647 1018.1L1648.5 1018.7L1650 1019.3L1651.5 1019.8L1653 1020.4L1654.5 1020.9L1656 1021.4L1657.5 1021.8L1658 1022L1659 1022.3L1660.5 1022.8L1662 1023.2L1663.5 1023.6L1665 1024L1666.5 1024.5L1668 1024.9L1669.5 1025.3L1671 1025.7L1672.5 1026.1L1674 1026.4L1675.5 1026.8L1677 1027.2L1678.5 1027.5L1680 1027.9L1681.5 1028.2L1683 1028.6L1684.5 1028.9L1686 1029.2L1687.5 1029.5L1689 1029.9L1690.5 1030.2L1692 1030.5L1693.5 1030.8L1695 1031.1L1696.5 1031.4L1698 1031.6L1699.5 1031.9L1700 1032L1701 1032.2L1702.5 1032.5L1704 1032.7L1705.5 1033L1707 1033.3L1708.5 1033.5L1710 1033.8L1711.5 1034.1L1713 1034.3L1714.5 1034.6L1716 1034.8L1717.5 1035.1L1719 1035.3L1720.5 1035.5L1722 1035.8L1723.5 1036L1725 1036.2L1726.5 1036.4L1728 1036.6L1729.5 1036.8L1731 1037L1732.5 1037.2L1734 1037.3L1735.5 1037.5L1737 1037.6L1738.5 1037.8L1740 1037.9L1741.5 1038L1743 1038.1L1744.5 1038.2L1746 1038.3L1747.5 1038.4L1749 1038.5L1750.5 1038.6L1752 1038.7L1753.5 1038.8L1755 1038.9L1756.5 1039L1758 1039.1L1759.5 1039.2L1761 1039.2L1762.5 1039.3L1764 1039.4L1765.5 1039.4L1767 1039.5L1768.5 1039.6L1770 1039.6L1771.5 1039.7L1773 1039.8L1774.5 1039.8L1776 1039.9L1777.5 1039.9L1779 1040L1780 1040L1780.5 1040L1782 1040.1L1783.5 1040.1L1785 1040.2L1786.5 1040.2L1788 1040.2L1789.5 1040.3L1791 1040.3L1792.5 1040.4L1794 1040.4L1795.5 1040.5L1797 1040.5L1798.5 1040.5L1800 1040.6L1801.5 1040.6L1803 1040.7L1804.5 1040.7L1806 1040.7L1807.5 1040.8L1809 1040.8L1810.5 1040.8L1812 1040.8L1813.5 1040.9L1815 1040.9L1816.5 1040.9L1818 1040.9L1819.5 1041L1821 1041L1822.5 1041L1823 1041L1823 1043.4L1822.5 1043.4L1821 1043.4L1819.5 1043.4L1818 1043.4L1816.5 1043.4L1815 1043.4L1813.5 1043.4L1812 1043.4L1810.5 1043.4L1809 1043.4L1807.5 1043.4L1806 1043.4L1804.5 1043.4L1803 1043.4L1801.5 1043.4L1800 1043.4L1798.5 1043.4L1797 1043.4L1795.5 1043.4L1794 1043.5L1792.5 1043.5L1791 1043.5L1789.5 1043.5L1788 1043.5L1786.5 1043.5L1785 1043.5L1783.5 1043.5L1782 1043.5L1780.5 1043.5L1780 1043.5L1779 1043.5L1777.5 1043.5L1776 1043.5L1774.5 1043.5L1773 1043.5L1771.5 1043.5L1770 1043.5L1768.5 1043.5L1767 1043.5L1765.5 1043.5L1764 1043.5L1762.5 1043.5L1761 1043.5L1759.5 1043.5L1758 1043.5L1756.5 1043.5L1755 1043.5L1753.5 1043.5L1752 1043.5L1750.5 1043.5L1749 1043.5L1747.5 1043.5L1746 1043.5L1744.5 1043.5L1743 1043.5L1741.5 1043.5L1740 1043.5L1738.5 1043.5L1737 1043.5L1735.5 1043.5L1734 1043.5L1732.5 1043.5L1731 1043.5L1729.5 1043.5L1728 1043.5L1726.5 1043.5L1725 1043.5L1723.5 1043.5L1722 1043.5L1720.5 1043.5L1719 1043.5L1717.5 1043.5L1716 1043.5L1714.5 1043.5L1713 1043.5L1711.5 1043.5L1710 1043.5L1708.5 1043.5L1707 1043.5L1705.5 1043.5L1704 1043.5L1702.5 1043.5L1701 1043.5L1700 1043.5L1699.5 1043.5L1698 1043.5L1696.5 1043.5L1695 1043.5L1693.5 1043.5L1692 1043.5L1690.5 1043.5L1689 1043.5L1687.5 1043.5L1686 1043.5L1684.5 1043.5L1683 1043.5L1681.5 1043.5L1680 1043.5L1678.5 1043.5L1677 1043.5L1675.5 1043.5L1674 1043.5L1672.5 1043.5L1671 1043.5L1669.5 1043.5L1668 1043.5L1666.5 1043.5L1665 1043.5L1663.5 1043.5L1662 1043.5L1660.5 1043.5L1659 1043.5L1658 1043.5L1657.5 1043.5L1656 1043.5L1654.5 1043.5L1653 1043.5L1651.5 1043.5L1650 1043.5L1648.5 1043.5L1647 1043.5L1645.5 1043.5L1644 1043.5L1642.5 1043.4L1641 1043.4L1639.5 1043.4L1638 1043.4L1636.5 1043.4L1635 1043.4L1633.5 1043.4L1632 1043.3L1630.5 1043.3L1629 1043.3L1627.5 1043.3L1626 1043.3L1624.5 1043.2L1624.3 1043.2L1623 1043.2L1621.5 1043.2L1620 1043.2L1618.5 1043.2L1617 1043.1L1615.5 1043.1L1614.9 1043.1L1614 1043.1L1612.5 1043.1L1611 1043L1609.5 1043L1608 1043L1606.5 1042.9L1605 1042.9L1603.5 1042.9L1602 1042.9L1600.5 1042.8L1599 1042.8L1597.5 1042.8L1596 1042.7L1594.5 1042.7L1593 1042.7L1591.5 1042.6L1590 1042.6L1589.4 1042.6L1588.5 1042.6L1587 1042.5L1585.5 1042.5L1584 1042.4L1582.5 1042.4L1581 1042.3L1579.5 1042.2L1578 1042.2L1576.5 1042.1L1575 1042L1573.5 1041.9L1573.2 1041.9L1572 1041.8L1570.5 1041.7L1569 1041.6L1567.5 1041.5L1566 1041.4L1565.5 1041.4L1564.5 1041.3L1563 1041.1L1561.5 1041L1560 1040.8L1558.5 1040.6L1557 1040.3L1556.2 1040.2L1555.5 1040.1L1554 1039.8L1552.5 1039.5L1551 1039.1L1549.5 1038.8L1548.5 1038.6L1548 1038.5L1546.5 1038.1L1545 1037.7L1543.5 1037.3L1542.6 1037.1L1542 1037L1540.5 1036.6L1539 1036.2L1537.5 1035.8L1536 1035.3L1534.9 1034.9L1534.5 1034.8L1533 1034.3L1531.5 1033.7L1530 1033.2L1528.5 1032.6L1527 1032L1525.5 1031.3L1524 1030.7L1522.5 1030L1521.3 1029.5L1521 1029.4L1519.5 1028.7L1518 1028.1L1516.5 1027.4L1515 1026.8L1513.5 1026.2L1512 1025.5L1511.1 1025.1L1510.5 1024.9L1509 1024.2L1507.5 1023.5L1506 1022.8L1504.5 1022.1L1503 1021.4L1501.5 1020.7L1500.9 1020.4L1500 1020L1498.5 1019.3L1497 1018.6L1495.5 1017.9L1494 1017.3L1492.5 1016.6L1492.3 1016.5L1491 1016L1489.5 1015.4L1488 1014.8L1486.5 1014.2L1486.2 1014.1L1485 1013.6L1483.5 1013L1482 1012.5L1480.5 1011.9L1479 1011.4L1477.5 1010.9L1477.3 1010.8L1476 1010.4L1474.5 1009.9L1473 1009.4L1471.5 1008.9L1470 1008.5L1469.4 1008.3L1468.5 1008.1L1467 1007.7L1465.5 1007.3L1464 1006.9L1462.5 1006.5L1461 1006.1L1459.8 1005.9L1459.5 1005.8L1458 1005.5L1456.5 1005.1L1455 1004.8L1454 1004.6L1453.5 1004.5L1452 1004.2L1450.5 1003.9L1449 1003.6L1448.6 1003.5L1447.5 1003.3L1446 1003L1444.5 1002.7L1443 1002.4L1441.5 1002.1L1440 1001.8L1438.5 1001.6L1437.4 1001.4L1437 1001.3L1435.5 1001L1434 1000.8L1432.5 1000.5L1431 1000.3L1429.5 1000.1L1428 999.8L1427.9 999.8L1426.5 999.6L1425 999.4L1423.5 999.3L1422 999.1L1420.5 998.9L1419 998.8L1418.3 998.7L1417.5 998.7L1416 998.5L1414.5 998.4L1413 998.3L1411.5 998.2L1410 998.1L1408.5 998L1407 997.8L1406 997.8L1405.5 997.7L1404 997.6L1402.5 997.5L1401 997.5L1399.5 997.4L1398.7 997.3L1398 997.3L1396.5 997.2L1395 997.1L1393.5 997L1392 996.9L1390.5 996.8L1389 996.8L1388.5 996.7L1387.5 996.7L1386 996.6L1384.5 996.5L1383 996.5L1381.5 996.4L1380 996.3L1378.5 996.2L1377 996.2L1376.6 996.1L1375.5 996.1L1374 996L1372.5 995.9L1371 995.9L1369.5 995.8L1368 995.7L1366.5 995.6L1365 995.5L1363.5 995.5L1363 995.4L1362 995.4L1360.5 995.3L1359 995.2L1357.5 995.1L1356 995.1L1354.5 995L1353 994.9L1351.5 994.8L1350 994.8L1348.5 994.7L1347.7 994.6L1347 994.6L1345.5 994.5L1344 994.4L1342.5 994.4L1341 994.3L1339.5 994.2L1338 994.2L1336.5 994.1L1335 994L1333.5 993.9L1332 993.9L1330.6 993.8L1330.5 993.8L1329 993.7L1327.5 993.7L1326 993.6L1324.5 993.5L1323 993.5L1321.5 993.4L1320 993.4L1318.5 993.3L1317 993.2L1315.5 993.2L1314 993.1L1313.6 993.1L1312.5 993.1L1311 993L1309.5 993L1308 992.9L1306.5 992.9L1305 992.8L1303.5 992.8L1302 992.7L1300.5 992.7L1300 992.7L1299 992.7L1297.5 992.6L1296 992.6L1294.5 992.5L1293 992.5L1291.5 992.4L1290 992.4L1288.5 992.4L1287 992.3L1285.5 992.3L1284 992.2L1282.5 992.2L1281 992.2L1279.5 992.1L1279.4 992.1L1278 992.1L1276.5 992.1L1275 992L1273.5 992L1272 991.9L1270.5 991.9L1269 991.9L1267.5 991.8L1266 991.8L1264.5 991.8L1263 991.7L1261.5 991.7L1260 991.7L1258.5 991.7L1257 991.6L1255.5 991.6L1254 991.6L1252.5 991.5L1251 991.5L1249.5 991.5L1248 991.4L1246.5 991.4L1245.3 991.4L1245 991.4L1243.5 991.4L1242 991.3L1240.5 991.3L1239 991.3L1237.5 991.3L1236 991.2L1234.5 991.2L1233 991.2L1231.5 991.1L1230 991.1L1228.5 991.1L1227 991.1L1225.5 991L1224 991L1222.5 991L1221 990.9L1219.5 990.9L1218 990.9L1216.5 990.9L1215 990.8L1213.5 990.8L1212 990.8L1211.3 990.8L1210.5 990.7L1209 990.7L1207.5 990.7L1206 990.7L1204.5 990.6L1203 990.6L1201.5 990.6L1200 990.6L1198.5 990.5L1197 990.5L1195.5 990.5L1194 990.5L1192.5 990.4L1191 990.4L1189.5 990.4L1188 990.4L1186.5 990.4L1185 990.4L1183.5 990.3L1182 990.3L1180.5 990.3L1179 990.3L1177.5 990.3L1176 990.3L1174.5 990.3L1173 990.2L1171.5 990.2L1170 990.2L1168.5 990.2L1167 990.2L1165.5 990.2L1164 990.2L1162.5 990.2L1161 990.2L1160.2 990.2L1159.5 990.2L1158 990.2L1156.5 990.2L1155 990.2L1153.5 990.2L1152 990.2L1150.5 990.2L1149 990.2L1147.5 990.2L1146 990.2L1144.5 990.2L1143 990.2L1141.5 990.2L1140 990.2L1138.5 990.2L1137 990.2L1135.5 990.2L1134 990.2L1132.5 990.2L1131 990.2L1129.5 990.2L1128 990.2L1126.5 990.2L1125 990.2L1123.5 990.3L1122 990.3L1120.5 990.3L1119 990.3L1117.5 990.3L1116 990.3L1114.5 990.3L1113 990.3L1111.5 990.3L1110 990.3L1109.1 990.3L1108.5 990.3L1107 990.3L1105.5 990.3L1104 990.3L1102.5 990.3L1101 990.4L1099.5 990.4L1098 990.4L1096.5 990.4L1095 990.4L1093.5 990.4L1092 990.4L1090.5 990.4L1089 990.4L1087.5 990.5L1086 990.5L1084.5 990.5L1083 990.5L1081.5 990.5L1080 990.5L1078.5 990.5L1077 990.5L1075.5 990.6L1074 990.6L1072.5 990.6L1071 990.6L1069.5 990.6L1068 990.6L1066.5 990.7L1065 990.7L1063.5 990.7L1062 990.7L1060.5 990.7L1059 990.8L1058.1 990.8L1057.5 990.8L1056 990.8L1054.5 990.8L1053 990.8L1051.5 990.9L1050 990.9L1048.5 990.9L1047 990.9L1045.5 990.9L1044 991L1042.5 991L1041 991L1039.5 991L1038 991.1L1036.5 991.1L1035 991.1L1033.5 991.1L1032 991.2L1030.5 991.2L1029 991.2L1027.5 991.3L1026 991.3L1024.5 991.3L1023 991.4L1021.5 991.4L1020 991.4L1018.5 991.4L1017 991.5L1015.5 991.5L1014 991.5L1012.5 991.6L1011 991.6L1009.5 991.7L1008 991.7L1006.5 991.7L1005 991.8L1003.5 991.8L1002 991.8L1000.5 991.9L999 991.9Z" fill="#009640"/>
<path d="M1100 990.4L1101.5 990.4L1103 990.3L1104.5 990.3L1106 990.3L1107.5 990.3L1109 990.3L1110.5 990.3L1112 990.3L1113.5 990.3L1115 990.3L1116.5 990.3L1118 990.3L1119.5 990.2L1121 990.1L1122.5 990.1L1124 990L1125.5 989.9L1127 989.9L1128.5 989.8L1130 989.7L1131.5 989.6L1133 989.6L1134.5 989.5L1136 989.4L1137.5 989.3L1139 989.2L1140.5 989.2L1142 989.1L1143.2 989L1143.5 989L1145 988.9L1146.5 988.8L1148 988.7L1149.5 988.5L1151 988.4L1152.5 988.2L1154 988L1155.5 987.9L1157 987.7L1158.5 987.5L1160 987.3L1161.5 987L1163 986.8L1164.5 986.6L1166 986.4L1167.5 986.1L1169 985.9L1170.5 985.6L1172 985.4L1173.5 985.1L1175 984.9L1176.5 984.6L1178 984.4L1179.5 984.1L1181 983.8L1182.5 983.6L1184 983.3L1185.5 983.1L1187 982.8L1188.5 982.6L1190 982.4L1191.5 982.1L1193 981.9L1194.3 981.7L1194.5 981.7L1196 981.4L1197.5 981.2L1199 981L1200.5 980.7L1202 980.5L1203.5 980.3L1205 980L1206.5 979.8L1208 979.5L1209.5 979.3L1211 979L1212.5 978.8L1214 978.6L1215.5 978.3L1217 978.1L1218.5 977.9L1220 977.7L1221.5 977.4L1223 977.2L1224.5 977L1226 976.9L1227.5 976.7L1228.3 976.6L1229 976.5L1230.5 976.4L1232 976.2L1233.5 976L1235 975.8L1236.5 975.7L1238 975.5L1239.5 975.3L1241 975.1L1242.5 975L1244 974.8L1245.5 974.7L1247 974.5L1248.5 974.4L1250 974.3L1251.5 974.1L1253 974L1254.5 973.9L1256 973.9L1257.5 973.8L1259 973.7L1260.5 973.7L1262 973.7L1262.3 973.7L1263.5 973.7L1265 973.7L1266.5 973.7L1268 973.8L1269.5 973.8L1271 973.9L1272.5 974L1274 974L1275.5 974.1L1277 974.2L1278.5 974.3L1280 974.4L1281.5 974.5L1283 974.6L1284.5 974.7L1286 974.8L1287.5 974.9L1287.9 974.9L1289 975L1290.5 975.1L1292 975.2L1293.5 975.4L1295 975.5L1296.5 975.7L1298 975.8L1299.5 976L1301 976.2L1302.5 976.4L1304 976.6L1305.5 976.8L1307 977L1308.5 977.2L1310 977.4L1311.5 977.6L1313 977.8L1314.5 978L1316 978.3L1317.5 978.5L1319 978.8L1320.5 979L1322 979.3L1323.5 979.5L1325 979.8L1326.5 980.1L1328 980.3L1329.5 980.6L1331 980.9L1332.5 981.2L1334 981.5L1335.5 981.7L1337 982L1338.5 982.3L1340 982.6L1341.5 982.9L1343 983.2L1344.5 983.5L1346 983.8L1347.5 984L1349 984.3L1350.5 984.6L1351 984.7L1352 984.9L1353.5 985.2L1355 985.4L1356.5 985.7L1358 986L1359.5 986.3L1361 986.6L1362.5 986.8L1364 987.1L1365.5 987.4L1367 987.7L1368.5 988L1370 988.2L1371.5 988.5L1373 988.8L1374.5 989.1L1376 989.4L1377.5 989.7L1379 990L1380.5 990.2L1382 990.5L1383.5 990.8L1385 991.1L1386.5 991.4L1388 991.7L1389.5 992L1391 992.3L1392.5 992.6L1394 992.9L1395.5 993.2L1397 993.5L1398.5 993.8L1400 994.1L1401.5 994.4L1402 994.5L1403 994.7L1404.5 995L1406 995.3L1407.5 995.6L1409 995.9L1410.5 996.3L1412 996.6L1413.5 996.9L1415 997.2L1416.5 997.5L1418 997.9L1419.5 998.2L1421 998.5L1422.5 998.8L1424 999.2L1425.5 999.5L1427 999.7L1428.5 999.9L1430 1000.1L1430 1000.1L1428.5 999.9L1427 999.7L1425.5 999.5L1424 999.3L1422.5 999.2L1421 999L1419.5 998.9L1418 998.7L1416.5 998.6L1415 998.5L1413.5 998.3L1412 998.2L1410.5 998.1L1409 998L1407.5 997.9L1406 997.8L1404.5 997.7L1403 997.6L1402 997.5L1401.5 997.5L1400 997.4L1398.5 997.3L1397 997.2L1395.5 997.1L1394 997L1392.5 997L1391 996.9L1389.5 996.8L1388 996.7L1386.5 996.6L1385 996.6L1383.5 996.5L1382 996.4L1380.5 996.3L1379 996.3L1377.5 996.2L1376 996.1L1374.5 996L1373 996L1371.5 995.9L1370 995.8L1368.5 995.7L1367 995.6L1365.5 995.6L1364 995.5L1362.5 995.4L1361 995.3L1359.5 995.2L1358 995.2L1356.5 995.1L1355 995L1353.5 994.9L1352 994.9L1351 994.8L1350.5 994.8L1349 994.7L1347.5 994.6L1346 994.5L1344.5 994.5L1343 994.4L1341.5 994.3L1340 994.2L1338.5 994.2L1337 994.1L1335.5 994L1334 994L1332.5 993.9L1331 993.8L1329.5 993.8L1328 993.7L1326.5 993.6L1325 993.6L1323.5 993.5L1322 993.4L1320.5 993.4L1319 993.3L1317.5 993.3L1316 993.2L1314.5 993.2L1313 993.1L1311.5 993L1310 993L1308.5 993L1307 992.9L1305.5 992.9L1304 992.8L1302.5 992.8L1301 992.7L1299.5 992.7L1298 992.6L1296.5 992.6L1295 992.5L1293.5 992.5L1292 992.5L1290.5 992.4L1289 992.4L1287.9 992.3L1287.5 992.3L1286 992.3L1284.5 992.3L1283 992.2L1281.5 992.2L1280 992.1L1278.5 992.1L1277 992.1L1275.5 992L1274 992L1272.5 992L1271 991.9L1269.5 991.9L1268 991.9L1266.5 991.8L1265 991.8L1263.5 991.8L1262.3 991.7L1262 991.7L1260.5 991.7L1259 991.7L1257.5 991.6L1256 991.6L1254.5 991.6L1253 991.5L1251.5 991.5L1250 991.5L1248.5 991.5L1247 991.4L1245.5 991.4L1244 991.4L1242.5 991.3L1241 991.3L1239.5 991.3L1238 991.3L1236.5 991.2L1235 991.2L1233.5 991.2L1232 991.1L1230.5 991.1L1229 991.1L1228.3 991.1L1227.5 991.1L1226 991L1224.5 991L1223 991L1221.5 990.9L1220 990.9L1218.5 990.9L1217 990.9L1215.5 990.8L1214 990.8L1212.5 990.8L1211 990.8L1209.5 990.7L1208 990.7L1206.5 990.7L1205 990.6L1203.5 990.6L1202 990.6L1200.5 990.6L1199 990.5L1197.5 990.5L1196 990.5L1194.5 990.5L1194.3 990.5L1193 990.5L1191.5 990.4L1190 990.4L1188.5 990.4L1187 990.4L1185.5 990.4L1184 990.3L1182.5 990.3L1181 990.3L1179.5 990.3L1178 990.3L1176.5 990.3L1175 990.3L1173.5 990.2L1172 990.2L1170.5 990.2L1169 990.2L1167.5 990.2L1166 990.2L1164.5 990.2L1163 990.2L1161.5 990.2L1160 990.2L1158.5 990.2L1157 990.2L1155.5 990.2L1154 990.2L1152.5 990.2L1151 990.2L1149.5 990.2L1148 990.2L1146.5 990.2L1145 990.2L1143.5 990.2L1143.2 990.2L1142 990.2L1140.5 990.2L1139 990.2L1137.5 990.2L1136 990.2L1134.5 990.2L1133 990.2L1131.5 990.2L1130 990.2L1128.5 990.2L1127 990.2L1125.5 990.2L1124 990.3L1122.5 990.3L1121 990.3L1119.5 990.3L1118 990.3L1116.5 990.3L1115 990.3L1113.5 990.3L1112 990.3L1110.5 990.3L1109 990.3L1107.5 990.3L1106 990.3L1104.5 990.3L1103 990.3L1101.5 990.4L1100 990.4Z" fill="#ffed00"/>
<path d="M999 991.9L1002 991.8L1005 991.8L1008 991.7L1011 991.6L1014 991.5L1017 991.5L1020 991.4L1023 991.4L1026 991.3L1029 991.2L1032 991.2L1035 991.1L1038 991.1L1041 991L1044 991L1047 990.9L1050 990.9L1053 990.8L1056 990.8L1059 990.8L1062 990.7L1065 990.7L1068 990.6L1071 990.6L1074 990.6L1077 990.5L1080 990.5L1083 990.5L1086 990.5L1089 990.4L1092 990.4L1095 990.4L1098 990.4L1101 990.4L1104 990.3L1107 990.3L1110 990.3L1113 990.3L1116 990.3L1119 990.3L1122 990.3L1125 990.2L1128 990.2L1131 990.2L1134 990.2L1137 990.2L1140 990.2L1143 990.2L1146 990.2L1149 990.2L1152 990.2L1155 990.2L1158 990.2L1160.2 990.2L1161 990.2L1164 990.2L1167 990.2L1170 990.2L1173 990.2L1176 990.3L1179 990.3L1182 990.3L1185 990.4L1188 990.4L1191 990.4L1194 990.5L1197 990.5L1200 990.6L1203 990.6L1206 990.7L1209 990.7L1212 990.8L1215 990.8L1218 990.9L1221 990.9L1224 991L1227 991.1L1230 991.1L1233 991.2L1236 991.2L1239 991.3L1242 991.3L1245 991.4L1245.3 991.4L1248 991.4L1251 991.5L1254 991.6L1257 991.6L1260 991.7L1263 991.7L1266 991.8L1269 991.9L1272 991.9L1275 992L1278 992.1L1281 992.2L1284 992.2L1287 992.3L1290 992.4L1293 992.5L1296 992.6L1299 992.7L1302 992.7L1305 992.8L1308 992.9L1310 993L1311 993L1314 993.1L1317 993.2L1320 993.4L1323 993.5L1326 993.6L1329 993.7L1332 993.9L1335 994L1338 994.2L1341 994.3L1344 994.4L1347 994.6L1350 994.8L1353 994.9L1356 995.1L1359 995.2L1362 995.4L1365 995.5L1368 995.7L1371 995.9L1374 996L1377 996.2L1380 996.3L1383 996.5L1386 996.6L1389 996.8L1392 996.9L1395 997.1L1398 997.3L1401 997.5L1404 997.6L1407 997.8L1410 998.1L1413 998.3L1416 998.5L1419 998.8L1420 998.9L1422 999.1L1425 999.4L1428 999.8L1431 1000.3L1434 1000.8L1437 1001.3L1440 1001.8L1443 1002.4L1446 1003L1449 1003.6L1452 1004.2L1454 1004.6L1455 1004.8L1458 1005.5L1461 1006.1L1464 1006.9L1467 1007.7L1470 1008.5L1473 1009.4L1476 1010.4L1479 1011.4L1482 1012.5L1485 1013.6L1488 1014.8L1488.1 1014.8L1491 1016L1494 1017.3L1497 1018.6L1500 1020L1503 1021.4L1506 1022.8L1509 1024.2L1512 1025.5L1513.6 1026.2L1515 1026.8L1518 1028.1L1521 1029.4L1524 1030.7L1527 1032L1530 1033.2L1533 1034.3L1536 1035.3L1539 1036.2L1539.1 1036.2L1542 1037L1545 1037.7L1548 1038.5L1551 1039.1L1554 1039.8L1557 1040.3L1560 1040.8L1563 1041.1L1564.7 1041.3L1566 1041.4L1569 1041.6L1572 1041.8L1575 1042L1578 1042.2L1581 1042.3L1584 1042.4L1587 1042.5L1590 1042.6L1590.2 1042.6L1593 1042.7L1596 1042.7L1599 1042.8L1602 1042.9L1605 1042.9L1608 1043L1611 1043L1614 1043.1L1617 1043.1L1620 1043.2L1623 1043.2L1626 1043.3L1629 1043.3L1632 1043.3L1635 1043.4L1638 1043.4L1641 1043.4L1644 1043.5L1647 1043.5L1650 1043.5L1653 1043.5L1656 1043.5L1658.3 1043.5L1659 1043.5L1662 1043.5L1665 1043.5L1668 1043.5L1671 1043.5L1674 1043.5L1677 1043.5L1680 1043.5L1683 1043.5L1686 1043.5L1689 1043.5L1692 1043.5L1695 1043.5L1698 1043.5L1701 1043.5L1704 1043.5L1707 1043.5L1710 1043.5L1713 1043.5L1716 1043.5L1719 1043.5L1722 1043.5L1725 1043.5L1728 1043.5L1731 1043.5L1734 1043.5L1737 1043.5L1740 1043.5L1743 1043.5L1746 1043.5L1749 1043.5L1752 1043.5L1755 1043.5L1758 1043.5L1761 1043.5L1764 1043.5L1767 1043.5L1770 1043.5L1773 1043.5L1776 1043.5L1779 1043.5L1782 1043.5L1785 1043.5L1788 1043.5L1791 1043.5L1794 1043.5L1797 1043.4L1800 1043.4L1803 1043.4L1806 1043.4L1809 1043.4L1812 1043.4L1815 1043.4L1818 1043.4L1821 1043.4L1821.4 1043.4L1821.4 1066.8" fill="none" stroke="#8b2b8a" stroke-width="4.2"/>
<path d="M999 1062.5H1340M1560 1067.2H1822" stroke="#8b2b8a" stroke-width="0.9" stroke-opacity="0.7" fill="none"/>
<g fill="#000"><rect x="1052.5" y="30" width="4.2" height="17.5"/>
<rect x="1052.5" y="1046.8" width="4.2" height="16.5"/>
<rect x="1110.8" y="30" width="4.2" height="31"/>
<rect x="1110.8" y="1033.3" width="4.2" height="30"/>
<rect x="1169.1" y="30" width="4.2" height="17.5"/>
<rect x="1169.1" y="1046.8" width="4.2" height="16.5"/>
<rect x="1227.4" y="30" width="4.2" height="17.5"/>
<rect x="1227.4" y="1046.8" width="4.2" height="16.5"/>
<rect x="1285.7" y="30" width="4.2" height="17.5"/>
<rect x="1285.7" y="1046.8" width="4.2" height="16.5"/>
<rect x="1344" y="30" width="4.2" height="31"/>
<rect x="1344" y="1033.3" width="4.2" height="30"/>
<rect x="1402.3" y="30" width="4.2" height="17.5"/>
<rect x="1402.3" y="1046.8" width="4.2" height="16.5"/>
<rect x="1460.6" y="30" width="4.2" height="17.5"/>
<rect x="1460.6" y="1046.8" width="4.2" height="16.5"/>
<rect x="1518.9" y="30" width="4.2" height="17.5"/>
<rect x="1518.9" y="1046.8" width="4.2" height="16.5"/>
<rect x="1577.2" y="30" width="4.2" height="31"/>
<rect x="1577.2" y="1033.3" width="4.2" height="30"/>
<rect x="1635.5" y="30" width="4.2" height="17.5"/>
<rect x="1635.5" y="1046.8" width="4.2" height="16.5"/>
<rect x="1693.8" y="30" width="4.2" height="17.5"/>
<rect x="1693.8" y="1046.8" width="4.2" height="16.5"/>
<rect x="1752.1" y="30" width="4.2" height="17.5"/>
<rect x="1752.1" y="1046.8" width="4.2" height="16.5"/>
<rect x="1810.4" y="30" width="4.2" height="31"/>
<rect x="1810.4" y="1033.3" width="4.2" height="30"/></g>
<g fill="#000"><circle cx="1000.6" cy="981.2" r="7.55"/>
<circle cx="1006.4" cy="980.1" r="7.55"/>
<circle cx="1012.2" cy="979.8" r="7.55"/>
<circle cx="1018.1" cy="978.5" r="7.55"/>
<circle cx="1023.9" cy="979.7" r="7.55"/>
<circle cx="1029.7" cy="979.3" r="7.55"/>
<circle cx="1035.6" cy="978.9" r="7.55"/>
<circle cx="1041.4" cy="979.1" r="7.55"/>
<circle cx="1047.2" cy="978.8" r="7.55"/>
<circle cx="1053.1" cy="977.7" r="7.55"/>
<circle cx="1058.9" cy="977.5" r="7.55"/>
<circle cx="1064.7" cy="977.3" r="7.55"/>
<circle cx="1070.6" cy="977.5" r="7.55"/>
<circle cx="1076.4" cy="976.8" r="7.55"/>
<circle cx="1082.2" cy="975.2" r="7.55"/>
<circle cx="1088" cy="974.6" r="7.55"/>
<circle cx="1093.9" cy="974.9" r="7.55"/>
<circle cx="1099.7" cy="974.6" r="7.55"/>
<circle cx="1105.5" cy="973" r="7.55"/>
<circle cx="1111.4" cy="971.8" r="7.55"/>
<circle cx="1117.2" cy="972" r="7.55"/>
<circle cx="1123" cy="970.4" r="7.55"/>
<circle cx="1128.8" cy="970.1" r="7.55"/>
<circle cx="1134.7" cy="969.6" r="7.55"/>
<circle cx="1140.5" cy="968.1" r="7.55"/>
<circle cx="1146.3" cy="966.7" r="7.55"/>
<circle cx="1152.2" cy="966" r="7.55"/>
<circle cx="1158" cy="964.1" r="7.55"/>
<circle cx="1163.8" cy="963.1" r="7.55"/>
<circle cx="1169.7" cy="961.6" r="7.55"/>
<circle cx="1175.5" cy="960.3" r="7.55"/>
<circle cx="1181.3" cy="958.6" r="7.55"/>
<circle cx="1187.2" cy="957.1" r="7.55"/>
<circle cx="1193" cy="955.3" r="7.55"/>
<circle cx="1198.8" cy="953.8" r="7.55"/>
<circle cx="1204.6" cy="952.1" r="7.55"/>
<circle cx="1210.5" cy="950.4" r="7.55"/>
<circle cx="1216.3" cy="949.2" r="7.55"/>
<circle cx="1222.1" cy="945.7" r="7.55"/>
<circle cx="1228" cy="945.4" r="7.55"/>
<circle cx="1233.8" cy="942.5" r="7.55"/>
<circle cx="1239.6" cy="939.9" r="7.55"/>
<circle cx="1245.5" cy="938.5" r="7.55"/>
<circle cx="1251.3" cy="936.5" r="7.55"/>
<circle cx="1257.1" cy="934.9" r="7.55"/>
<circle cx="1262.9" cy="931.5" r="7.55"/>
<circle cx="1268.8" cy="929.9" r="7.55"/>
<circle cx="1274.6" cy="927.5" r="7.55"/>
<circle cx="1280.4" cy="924.1" r="7.55"/>
<circle cx="1286.3" cy="922" r="7.55"/>
<circle cx="1292.1" cy="920.6" r="7.55"/>
<circle cx="1297.9" cy="918.1" r="7.55"/>
<circle cx="1303.8" cy="915.7" r="7.55"/>
<circle cx="1309.6" cy="912.4" r="7.55"/>
<circle cx="1315.4" cy="909.1" r="7.55"/>
<circle cx="1321.2" cy="904.9" r="7.55"/>
<circle cx="1327.1" cy="900.7" r="7.55"/>
<circle cx="1332.9" cy="894.5" r="7.55"/>
<circle cx="1338.7" cy="889.3" r="7.55"/>
<circle cx="1344.6" cy="883.5" r="7.55"/>
<circle cx="1350.4" cy="875.8" r="7.55"/>
<circle cx="1356.2" cy="870.1" r="7.55"/>
<circle cx="1362" cy="860.6" r="7.55"/>
<circle cx="1367.9" cy="851.5" r="7.55"/>
<circle cx="1373.7" cy="842.7" r="7.55"/>
<circle cx="1379.5" cy="830.4" r="7.55"/>
<circle cx="1385.4" cy="818.1" r="7.55"/>
<circle cx="1391.2" cy="806" r="7.55"/>
<circle cx="1397.6" cy="795.5" r="7.55"/>
<circle cx="1403.1" cy="776.4" r="7.55"/>
<circle cx="1409.5" cy="762" r="7.55"/>
<circle cx="1415.1" cy="741.7" r="7.55"/>
<circle cx="1421" cy="718.4" r="7.55"/>
<circle cx="1426.3" cy="694.5" r="7.55"/>
<circle cx="1432.3" cy="663.4" r="7.55"/>
<circle cx="1437.8" cy="633.5" r="7.55"/>
<circle cx="1444.1" cy="590.3" r="7.55"/>
<circle cx="1449.7" cy="544.1" r="7.55"/>
<circle cx="1455.8" cy="489.3" r="7.55"/>
<circle cx="1461.1" cy="432.4" r="7.55"/>
<circle cx="1467.3" cy="369.5" r="7.55"/>
<circle cx="1472.5" cy="304.1" r="7.55"/>
<circle cx="1478.9" cy="246.7" r="7.55"/>
<circle cx="1484.5" cy="183.7" r="7.55"/>
<circle cx="1490.6" cy="139.3" r="7.55"/>
<circle cx="1496" cy="103.9" r="7.55"/>
<circle cx="1501.5" cy="87.5" r="7.55"/>
<circle cx="1507" cy="84" r="7.55"/>
<circle cx="1513.7" cy="114.6" r="7.55"/>
<circle cx="1519.3" cy="169.3" r="7.55"/>
<circle cx="1525.7" cy="246" r="7.55"/>
<circle cx="1531.1" cy="334.6" r="7.55"/>
<circle cx="1537.2" cy="439.1" r="7.55"/>
<circle cx="1542.8" cy="533.2" r="7.55"/>
<circle cx="1549.1" cy="624" r="7.55"/>
<circle cx="1554.2" cy="699.8" r="7.55"/>
<circle cx="1560.6" cy="762.8" r="7.55"/>
<circle cx="1566.4" cy="813.6" r="7.55"/>
<circle cx="1572" cy="853.3" r="7.55"/>
<circle cx="1577.8" cy="886" r="7.55"/>
<circle cx="1583.4" cy="911.5" r="7.55"/>
<circle cx="1589.4" cy="931.9" r="7.55"/>
<circle cx="1595.3" cy="948.7" r="7.55"/>
<circle cx="1601.3" cy="961.1" r="7.55"/>
<circle cx="1606.8" cy="973" r="7.55"/>
<circle cx="1613.2" cy="983.2" r="7.55"/>
<circle cx="1618.7" cy="992.5" r="7.55"/>
<circle cx="1624.5" cy="998.1" r="7.55"/>
<circle cx="1630.4" cy="1000.5" r="7.55"/>
<circle cx="1636.2" cy="1003.7" r="7.55"/>
<circle cx="1642" cy="1007" r="7.55"/>
<circle cx="1647.9" cy="1009.9" r="7.55"/>
<circle cx="1653.7" cy="1012.9" r="7.55"/>
<circle cx="1659.5" cy="1015.5" r="7.55"/>
<circle cx="1665.3" cy="1018.4" r="7.55"/>
<circle cx="1671.2" cy="1020.2" r="7.55"/>
<circle cx="1677" cy="1021.6" r="7.55"/>
<circle cx="1682.8" cy="1022.2" r="7.55"/>
<circle cx="1688.7" cy="1023.3" r="7.55"/>
<circle cx="1694.5" cy="1023.7" r="7.55"/>
<circle cx="1700.3" cy="1025.7" r="7.55"/>
<circle cx="1706.2" cy="1025.4" r="7.55"/>
<circle cx="1712" cy="1027.3" r="7.55"/>
<circle cx="1717.8" cy="1028.4" r="7.55"/>
<circle cx="1723.6" cy="1027.8" r="7.55"/>
<circle cx="1729.5" cy="1028.5" r="7.55"/>
<circle cx="1735.3" cy="1029.1" r="7.55"/>
<circle cx="1741.1" cy="1030" r="7.55"/>
<circle cx="1747" cy="1029.6" r="7.55"/>
<circle cx="1752.8" cy="1030.2" r="7.55"/>
<circle cx="1758.6" cy="1030.3" r="7.55"/>
<circle cx="1764.5" cy="1030.6" r="7.55"/>
<circle cx="1770.3" cy="1031.5" r="7.55"/>
<circle cx="1776.1" cy="1030.7" r="7.55"/>
<circle cx="1781.9" cy="1031.3" r="7.55"/>
<circle cx="1787.8" cy="1031.5" r="7.55"/>
<circle cx="1793.6" cy="1031.8" r="7.55"/>
<circle cx="1799.4" cy="1031" r="7.55"/>
<circle cx="1805.3" cy="1032.1" r="7.55"/>
<circle cx="1811.1" cy="1031.9" r="7.55"/>
<circle cx="1816.9" cy="1032.2" r="7.55"/></g>
<path d="M999 981.7L999.5 981.7L1000 981.7L1000.5 981.7L1001 981.6L1001.5 981.6L1002 981.6L1002.5 981.6L1003 981.6L1003.5 981.5L1004 981.5L1004.5 981.5L1005 981.5L1005.5 981.5L1006 981.5L1006.5 981.4L1007 981.4L1007.5 981.4L1008 981.4L1008.5 981.4L1009 981.3L1009.5 981.3L1010 981.3L1010.5 981.3L1011 981.3L1011.5 981.2L1012 981.2L1012.5 981.2L1013 981.2L1013.5 981.1L1014 981.1L1014.5 981.1L1015 981.1L1015.5 981.1L1016 981L1016.5 981L1017 981L1017.5 981L1018 980.9L1018.5 980.9L1019 980.9L1019.5 980.9L1020 980.8L1020.5 980.8L1021 980.8L1021.5 980.8L1022 980.7L1022.5 980.7L1023 980.7L1023.5 980.7L1024 980.6L1024.5 980.6L1025 980.6L1025.5 980.6L1026 980.5L1026.5 980.5L1027 980.5L1027.5 980.5L1028 980.4L1028.5 980.4L1029 980.4L1029.5 980.3L1030 980.3L1030.5 980.3L1031 980.3L1031.5 980.2L1032 980.2L1032.5 980.2L1033 980.2L1033.5 980.1L1034 980.1L1034.5 980.1L1035 980L1035.5 980L1036 980L1036.5 980L1037 979.9L1037.5 979.9L1038 979.9L1038.5 979.8L1039 979.8L1039.5 979.8L1040 979.7L1040.5 979.7L1041 979.7L1041.5 979.7L1042 979.6L1042.5 979.6L1043 979.6L1043.5 979.5L1044 979.5L1044.5 979.5L1045 979.4L1045.5 979.4L1046 979.4L1046.5 979.3L1047 979.3L1047.5 979.3L1048 979.3L1048.5 979.2L1049 979.2L1049.5 979.2L1050 979.1L1050.5 979.1L1051 979.1L1051.5 979L1052 979L1052.5 979L1053 978.9L1053.5 978.9L1054 978.9L1054.5 978.8L1055 978.8L1055.5 978.8L1056 978.7L1056.5 978.7L1057 978.7L1057.5 978.6L1058 978.6L1058.1 978.6L1058.5 978.6L1059 978.5L1059.5 978.5L1060 978.5L1060.5 978.4L1061 978.4L1061.5 978.4L1062 978.3L1062.5 978.3L1063 978.3L1063.5 978.2L1064 978.2L1064.5 978.2L1065 978.1L1065.5 978.1L1066 978.1L1066.5 978L1067 978L1067.5 977.9L1068 977.9L1068.5 977.9L1069 977.8L1069.5 977.8L1070 977.8L1070.5 977.7L1071 977.7L1071.5 977.6L1072 977.6L1072.5 977.6L1073 977.5L1073.5 977.5L1074 977.4L1074.5 977.4L1075 977.4L1075.5 977.3L1076 977.3L1076.5 977.2L1077 977.2L1077.5 977.2L1078 977.1L1078.5 977.1L1079 977L1079.5 977L1080 976.9L1080.5 976.9L1081 976.9L1081.5 976.8L1082 976.8L1082.5 976.7L1083 976.7L1083.5 976.6L1084 976.6L1084.5 976.5L1085 976.5L1085.5 976.5L1086 976.4L1086.5 976.4L1087 976.3L1087.5 976.3L1088 976.2L1088.5 976.2L1089 976.1L1089.5 976.1L1090 976L1090.5 976L1091 975.9L1091.5 975.9L1092 975.8L1092.5 975.8L1093 975.7L1093.5 975.7L1094 975.6L1094.5 975.6L1095 975.5L1095.5 975.5L1096 975.4L1096.5 975.4L1097 975.3L1097.5 975.3L1098 975.2L1098.5 975.2L1099 975.1L1099.5 975.1L1100 975L1100.5 975L1101 974.9L1101.5 974.9L1102 974.8L1102.5 974.7L1103 974.7L1103.5 974.6L1104 974.6L1104.5 974.5L1105 974.5L1105.5 974.4L1106 974.4L1106.5 974.3L1107 974.2L1107.5 974.2L1108 974.1L1108.5 974.1L1109 974L1109.1 974L1109.5 974L1110 973.9L1110.5 973.8L1111 973.8L1111.5 973.7L1112 973.7L1112.5 973.6L1113 973.5L1113.5 973.5L1114 973.4L1114.5 973.3L1115 973.3L1115.5 973.2L1116 973.1L1116.5 973.1L1117 973L1117.5 972.9L1118 972.9L1118.5 972.8L1119 972.7L1119.5 972.7L1120 972.6L1120.5 972.5L1121 972.5L1121.5 972.4L1122 972.3L1122.5 972.2L1123 972.2L1123.5 972.1L1124 972L1124.5 971.9L1125 971.9L1125.5 971.8L1126 971.7L1126.5 971.6L1127 971.6L1127.5 971.5L1128 971.4L1128.5 971.3L1129 971.3L1129.5 971.2L1130 971.1L1130.5 971L1131 970.9L1131.5 970.9L1132 970.8L1132.5 970.7L1133 970.6L1133.5 970.5L1134 970.4L1134.5 970.4L1135 970.3L1135.5 970.2L1136 970.1L1136.5 970L1137 969.9L1137.5 969.9L1138 969.8L1138.5 969.7L1139 969.6L1139.5 969.5L1140 969.4L1140.5 969.3L1141 969.2L1141.5 969.1L1142 969.1L1142.5 969L1143 968.9L1143.5 968.8L1144 968.7L1144.5 968.6L1145 968.5L1145.5 968.4L1146 968.3L1146.5 968.2L1147 968.1L1147.5 968L1148 967.9L1148.5 967.8L1149 967.8L1149.5 967.7L1150 967.6L1150.5 967.5L1151 967.4L1151.5 967.3L1152 967.2L1152.5 967.1L1153 967L1153.5 966.9L1154 966.8L1154.5 966.7L1155 966.6L1155.5 966.5L1156 966.4L1156.5 966.3L1157 966.2L1157.5 966.1L1158 966L1158.5 965.9L1159 965.8L1159.5 965.6L1160 965.5L1160.2 965.5L1160.5 965.4L1161 965.3L1161.5 965.2L1162 965.1L1162.5 965L1163 964.9L1163.5 964.8L1164 964.7L1164.5 964.6L1165 964.4L1165.5 964.3L1166 964.2L1166.5 964.1L1167 964L1167.5 963.9L1168 963.7L1168.5 963.6L1169 963.5L1169.5 963.4L1170 963.3L1170.5 963.1L1171 963L1171.5 962.9L1172 962.8L1172.5 962.6L1173 962.5L1173.5 962.4L1174 962.2L1174.5 962.1L1175 962L1175.5 961.8L1176 961.7L1176.5 961.6L1177 961.4L1177.5 961.3L1178 961.2L1178.5 961L1179 960.9L1179.5 960.8L1180 960.6L1180.5 960.5L1181 960.3L1181.5 960.2L1182 960.1L1182.5 959.9L1183 959.8L1183.5 959.6L1184 959.5L1184.5 959.3L1185 959.2L1185.5 959.1L1186 958.9L1186.5 958.8L1187 958.6L1187.5 958.5L1188 958.3L1188.5 958.2L1189 958L1189.5 957.9L1190 957.7L1190.5 957.6L1191 957.4L1191.5 957.3L1192 957.1L1192.5 957L1193 956.8L1193.5 956.7L1194 956.5L1194.5 956.4L1195 956.2L1195.5 956.1L1196 955.9L1196.5 955.7L1197 955.6L1197.5 955.4L1198 955.3L1198.5 955.1L1199 955L1199.5 954.8L1200 954.7L1200.5 954.5L1201 954.3L1201.5 954.2L1202 954L1202.5 953.9L1203 953.7L1203.5 953.6L1204 953.4L1204.5 953.2L1205 953.1L1205.5 952.9L1206 952.8L1206.5 952.6L1207 952.5L1207.5 952.3L1208 952.1L1208.5 952L1209 951.8L1209.5 951.7L1210 951.5L1210.5 951.4L1211 951.2L1211.3 951.1L1211.5 951L1212 950.9L1212.5 950.7L1213 950.6L1213.5 950.4L1214 950.2L1214.5 950.1L1215 949.9L1215.5 949.7L1216 949.6L1216.5 949.4L1217 949.3L1217.5 949.1L1218 948.9L1218.5 948.8L1219 948.6L1219.5 948.4L1220 948.2L1220.5 948.1L1221 947.9L1221.5 947.7L1222 947.6L1222.5 947.4L1223 947.2L1223.5 947L1224 946.9L1224.5 946.7L1225 946.5L1225.5 946.3L1226 946.2L1226.5 946L1227 945.8L1227.5 945.6L1228 945.5L1228.5 945.3L1229 945.1L1229.5 944.9L1230 944.7L1230.5 944.6L1231 944.4L1231.5 944.2L1232 944L1232.5 943.8L1233 943.7L1233.5 943.5L1234 943.3L1234.5 943.1L1235 942.9L1235.5 942.7L1236 942.6L1236.5 942.4L1237 942.2L1237.5 942L1238 941.8L1238.5 941.6L1239 941.4L1239.5 941.3L1240 941.1L1240.5 940.9L1241 940.7L1241.5 940.5L1242 940.3L1242.5 940.1L1243 940L1243.5 939.8L1244 939.6L1244.5 939.4L1245 939.2L1245.3 939.1L1245.5 939L1246 938.8L1246.5 938.6L1247 938.5L1247.5 938.3L1248 938.1L1248.5 937.9L1249 937.7L1249.5 937.5L1250 937.3L1250.5 937.1L1251 936.9L1251.5 936.8L1252 936.6L1252.5 936.4L1253 936.2L1253.5 936L1254 935.8L1254.5 935.6L1255 935.4L1255.5 935.2L1256 935L1256.5 934.8L1257 934.6L1257.5 934.4L1258 934.2L1258.5 934L1259 933.9L1259.5 933.7L1260 933.5L1260.5 933.3L1261 933.1L1261.5 932.9L1262 932.7L1262.5 932.5L1263 932.3L1263.5 932.1L1264 931.9L1264.5 931.7L1265 931.5L1265.5 931.3L1266 931.1L1266.5 930.9L1267 930.7L1267.5 930.5L1268 930.3L1268.5 930.1L1269 929.8L1269.5 929.6L1270 929.4L1270.5 929.2L1271 929L1271.5 928.8L1272 928.6L1272.5 928.4L1273 928.2L1273.5 928L1274 927.8L1274.5 927.6L1275 927.4L1275.5 927.2L1276 926.9L1276.5 926.7L1277 926.5L1277.5 926.3L1278 926.1L1278.5 925.9L1279 925.7L1279.4 925.5L1279.5 925.5L1280 925.2L1280.5 925L1281 924.8L1281.5 924.6L1282 924.4L1282.5 924.2L1283 924L1283.5 923.8L1284 923.6L1284.5 923.4L1285 923.1L1285.5 922.9L1286 922.7L1286.5 922.5L1287 922.3L1287.5 922.1L1288 921.9L1288.5 921.7L1289 921.5L1289.5 921.3L1290 921.1L1290.5 920.9L1291 920.7L1291.5 920.5L1292 920.3L1292.5 920L1293 919.8L1293.5 919.6L1294 919.4L1294.5 919.2L1295 919L1295.5 918.8L1296 918.6L1296.5 918.3L1297 918.1L1297.5 917.9L1298 917.7L1298.5 917.5L1299 917.2L1299.5 917L1300 916.8L1300.5 916.6L1301 916.3L1301.5 916.1L1302 915.9L1302.5 915.7L1303 915.4L1303.5 915.2L1304 914.9L1304.5 914.7L1305 914.5L1305.5 914.2L1306 914L1306.5 913.7L1307 913.5L1307.5 913.2L1308 913L1308.5 912.7L1309 912.4L1309.5 912.2L1310 911.9L1310.5 911.6L1311 911.4L1311.5 911.1L1312 910.8L1312.5 910.5L1313 910.2L1313.5 910L1314 909.7L1314.5 909.4L1315 909.1L1315.3 908.9L1315.5 908.8L1316 908.5L1316.5 908.2L1317 907.8L1317.5 907.5L1318 907.2L1318.5 906.8L1319 906.5L1319.5 906.1L1320 905.7L1320.5 905.4L1321 905L1321.5 904.6L1322 904.2L1322.5 903.8L1323 903.4L1323.5 903L1324 902.6L1324.5 902.2L1325 901.8L1325.5 901.4L1326 901L1326.5 900.5L1327 900.1L1327.5 899.7L1328 899.3L1328.5 898.8L1329 898.4L1329.5 898L1330 897.5L1330.5 897.1L1330.6 897L1331 896.6L1331.5 896.2L1332 895.8L1332.5 895.3L1333 894.9L1333.5 894.4L1334 893.9L1334.5 893.5L1335 893L1335.5 892.5L1336 892.1L1336.5 891.6L1337 891.1L1337.5 890.6L1338 890.1L1338.5 889.6L1339 889.1L1339.5 888.6L1340 888.1L1340.5 887.6L1341 887.1L1341.5 886.5L1342 886L1342.5 885.5L1343 885L1343.5 884.4L1344 883.9L1344.5 883.3L1345 882.8L1345.5 882.3L1346 881.7L1346.5 881.1L1347 880.6L1347.5 880L1348 879.5L1348.5 878.9L1349 878.3L1349.5 877.7L1350 877.1L1350.5 876.6L1351 876L1351.5 875.4L1352 874.8L1352.5 874.1L1353 873.5L1353.5 872.9L1354 872.3L1354.5 871.6L1355 871L1355.5 870.3L1356 869.7L1356.5 869L1357 868.3L1357.5 867.7L1358 867L1358.5 866.3L1359 865.6L1359.5 864.8L1359.6 864.7L1360 864.1L1360.5 863.4L1361 862.6L1361.5 861.8L1362 861.1L1362.5 860.3L1363 859.5L1363.5 858.7L1364 857.8L1364.5 857L1365 856.1L1365.5 855.3L1366 854.4L1366.5 853.5L1367 852.7L1367.5 851.8L1368 850.9L1368.5 849.9L1369 849L1369.5 848.1L1370 847.2L1370.5 846.2L1371 845.3L1371.5 844.3L1372 843.3L1372.5 842.3L1373 841.3L1373.5 840.3L1374 839.3L1374.5 838.2L1375 837.2L1375.5 836.1L1376 835L1376.5 833.9L1377 832.8L1377.5 831.7L1378 830.6L1378.5 829.4L1379 828.3L1379.5 827.2L1380 826L1380.5 824.9L1381 823.7L1381.5 822.6L1381.7 822.1L1382 821.4L1382.5 820.2L1383 819.1L1383.5 817.9L1384 816.7L1384.5 815.5L1385 814.3L1385.5 813.1L1386 811.9L1386.5 810.6L1387 809.4L1387.5 808.1L1388 806.9L1388.5 805.6L1389 804.3L1389.5 803L1390 801.7L1390.5 800.4L1391 799.1L1391.5 797.8L1392 796.4L1392.5 795.1L1393 793.8L1393.5 792.4L1394 791.1L1394.5 789.7L1395 788.3L1395.5 786.9L1396 785.5L1396.5 784.1L1397 782.7L1397.5 781.2L1398 779.8L1398.5 778.3L1399 776.8L1399.5 775.3L1400 773.8L1400.5 772.2L1400.7 771.6L1401 770.7L1401.5 769.1L1402 767.4L1402.5 765.8L1403 764.1L1403.5 762.4L1404 760.6L1404.5 758.9L1405 757.1L1405.5 755.3L1406 753.5L1406.5 751.7L1407 749.9L1407.5 748L1408 746.2L1408.5 744.3L1409 742.5L1409.5 740.6L1410 738.8L1410.5 736.9L1411 735L1411.5 733.2L1411.9 731.7L1412 731.3L1412.5 729.5L1413 727.6L1413.5 725.8L1414 723.9L1414.5 722.1L1415 720.2L1415.5 718.4L1416 716.5L1416.5 714.6L1417 712.7L1417.5 710.8L1418 708.9L1418.5 707L1419 705.1L1419.5 703.1L1420 701.1L1420.5 699.1L1421 697.1L1421.5 695.1L1422 693L1422.3 691.8L1422.5 691L1423 688.9L1423.5 686.8L1424 684.7L1424.5 682.5L1425 680.4L1425.5 678.2L1426 676.1L1426.5 673.9L1427 671.6L1427.5 669.4L1428 667.1L1428.5 664.7L1429 662.3L1429.5 659.9L1430 657.5L1430.5 655L1431 652.4L1431.1 651.9L1431.5 649.8L1432 647.1L1432.5 644.3L1433 641.4L1433.5 638.5L1434 635.5L1434.5 632.4L1435 629.4L1435.5 626.3L1436 623.1L1436.5 620L1437 616.9L1437.5 613.8L1437.8 612L1438 610.8L1438.5 607.7L1439 604.7L1439.5 601.7L1440 598.6L1440.5 595.6L1441 592.6L1441.5 589.6L1442 586.6L1442.5 583.5L1443 580.5L1443.5 577.5L1444 574.5L1444.5 571.4L1445 568.4L1445.5 565.3L1446 562.2L1446.5 559.2L1447 556.1L1447.5 553L1448 549.8L1448.5 546.7L1449 543.5L1449.5 540.3L1450 537.1L1450.5 533.9L1451 530.6L1451.5 527.4L1452 524L1452.5 520.7L1453 517.3L1453.5 513.9L1454 510.5L1454.5 507L1455 503.5L1455.5 499.9L1455.8 497.8L1456 496.4L1456.5 492.8L1457 489.1L1457.5 485.5L1458 481.8L1458.5 478L1459 474.3L1459.5 470.5L1460 466.6L1460.5 462.7L1461 458.7L1461.5 454.7L1462 450.6L1462.5 446.4L1463 442.2L1463.5 437.9L1464 433.5L1464.5 429.1L1465 424.5L1465.5 419.9L1465.7 418L1466 415.1L1466.5 410.2L1467 405L1467.5 399.6L1468 394.1L1468.5 388.4L1469 382.7L1469.5 376.8L1470 370.8L1470.5 364.8L1471 358.7L1471.5 352.7L1472 346.6L1472.5 340.5L1473 334.5L1473.5 328.6L1474 322.8L1474.5 317L1475 311.4L1475.5 305.9L1475.7 303.8L1476 300.7L1476.5 295.6L1477 290.9L1477.5 286.2L1478 281.7L1478.5 277.3L1479 272.9L1479.5 268.5L1480 264L1480.5 259.4L1481 254.6L1481.5 249.6L1482 244.4L1482.5 238.9L1483 233L1483.5 226.6L1483.7 224L1484 219.5L1484.5 210.6L1485 200.7L1485.5 191.1L1486 183L1486.1 181.6L1486.5 176.6L1487 170.8L1487.5 165.5L1488 160.5L1488.5 155.9L1489 151.4L1489.5 147L1490 142.6L1490.1 141.7L1490.5 138.2L1491 134L1491.5 129.9L1492 126L1492.5 122.1L1493 118.3L1493.5 114.4L1494 110.6L1494.5 106.6L1494.9 103.4L1495 102.6L1495.5 98.2L1496 93.6L1496.5 88.9L1497 84.3L1497.5 79.9L1498 75.8L1498.5 72.3L1498.9 69.9L1499 69.4L1499.5 66.9L1500 64.6L1500.5 62.5L1501 60.6L1501.5 58.9L1502 57.3L1502.3 56.5L1502.5 56L1503 54.7L1503.5 53.6L1504 52.7L1504.3 52.3L1504.5 52.1L1505 51.6L1505.5 51.2L1506 51L1506.1 51L1506.5 51.1L1507 51.4L1507.5 51.9L1507.9 52.3L1508 52.4L1508.5 53.2L1509 54.2L1509.5 55.4L1509.9 56.5L1510 56.8L1510.5 58.3L1511 59.9L1511.5 61.8L1512 63.9L1512.5 66.2L1513 68.8L1513.2 69.9L1513.5 71.7L1514 75.3L1514.5 79.5L1515 84.2L1515.5 89.1L1516 94.2L1516.5 99.4L1516.9 103.4L1517 104.4L1517.5 109.4L1518 114.6L1518.5 119.9L1519 125.4L1519.5 131L1520 136.9L1520.4 141.7L1520.5 142.9L1521 149L1521.5 155.3L1522 161.8L1522.5 168.9L1523 176.6L1523.3 181.6L1523.5 185.3L1524 196L1524.5 207.9L1525 219.6L1525.2 224L1525.5 230.3L1526 240.7L1526.5 251L1527 261.1L1527.5 271L1528 280.8L1528.5 290.5L1529 300L1529.2 303.8L1529.5 309.5L1530 318.8L1530.5 328L1531 337.2L1531.5 346.2L1532 355.2L1532.5 364.1L1533 372.9L1533.5 381.7L1534 390.4L1534.5 399L1535 407.7L1535.5 416.3L1535.6 418L1536 424.8L1536.5 433.2L1537 441.5L1537.5 449.7L1538 457.8L1538.5 466L1539 474.2L1539.5 482.5L1540 490.9L1540.4 497.8L1540.5 499.5L1541 508.3L1541.5 517.3L1542 526.3L1542.5 535.5L1543 544.7L1543.5 554L1544 563.2L1544.5 572.5L1545 581.7L1545.5 590.7L1546 599.7L1546.5 608.5L1546.7 612L1547 617.2L1547.5 626L1548 634.9L1548.5 643.7L1549 652.4L1549.5 661L1550 669.2L1550.5 677.2L1551 684.7L1551.5 691.8L1552 698.4L1552.5 704.7L1553 710.6L1553.5 716.4L1554 721.9L1554.5 727.3L1555 732.7L1555.5 738L1556 743.4L1556.5 748.8L1557 754.5L1557.1 755.6L1557.5 760.3L1558 766.5L1558.5 772.8L1559 779.1L1559.5 785.3L1560 791.1L1560.5 796.5L1561 801.3L1561.2 803L1561.5 805.4L1562 808.9L1562.5 812.2L1563 815.2L1563.5 818.1L1564 821L1564.5 824.2L1564.7 825.5L1565 827.6L1565.5 831.1L1566 834.8L1566.5 838.6L1567 842.4L1567.5 846.3L1568 850.1L1568.5 853.8L1569 857.5L1569.5 861L1570 864.4L1570.5 867.5L1570.6 868.1L1571 870.4L1571.5 873.3L1572 876.1L1572.5 878.8L1573 881.5L1573.5 884L1574 886.5L1574.5 889L1575 891.4L1575.5 893.7L1576 896L1576.5 898.2L1577 900.4L1577.4 902.1L1577.5 902.5L1578 904.6L1578.5 906.7L1579 908.8L1579.5 910.9L1580 912.9L1580.5 914.9L1581 916.9L1581.5 918.8L1582 920.7L1582.5 922.6L1583 924.4L1583.5 926.1L1584 927.8L1584.5 929.4L1585 930.9L1585.5 932.3L1586 933.7L1586.5 935L1587 936.2L1587.5 937.4L1588 938.5L1588.5 939.6L1589 940.6L1589.5 941.6L1590 942.6L1590.5 943.5L1591 944.5L1591.5 945.3L1592 946.2L1592.5 947.1L1593 947.9L1593.5 948.8L1594 949.6L1594.5 950.4L1595 951.2L1595.5 952L1596 952.9L1596.2 953.2L1596.5 953.7L1597 954.5L1597.5 955.3L1598 956.2L1598.5 957L1599 957.8L1599.5 958.6L1600 959.3L1600.5 960.1L1601 960.9L1601.5 961.6L1602 962.4L1602.5 963.1L1603 963.8L1603.5 964.6L1604 965.3L1604.5 966L1605 966.6L1605.5 967.3L1606 968L1606.4 968.5L1606.5 968.6L1607 969.3L1607.5 969.9L1608 970.5L1608.5 971.2L1609 971.8L1609.5 972.4L1610 973L1610.5 973.6L1611 974.1L1611.5 974.7L1612 975.3L1612.5 975.8L1613 976.4L1613.5 976.9L1614 977.4L1614.5 977.9L1615 978.4L1615.5 978.9L1615.7 979.1L1616 979.4L1616.5 979.8L1617 980.3L1617.5 980.8L1618 981.2L1618.5 981.7L1619 982.1L1619.5 982.5L1620 983L1620.5 983.4L1621 983.8L1621.5 984.2L1622 984.6L1622.5 985L1623 985.4L1623.5 985.8L1624 986.2L1624.5 986.6L1625 987L1625.5 987.4L1626 987.7L1626.5 988.1L1627 988.5L1627.5 988.8L1628 989.2L1628.5 989.5L1629 989.9L1629.5 990.2L1630 990.6L1630.5 990.9L1631 991.2L1631.5 991.6L1632 991.9L1632.5 992.2L1632.8 992.4L1633 992.5L1633.5 992.8L1634 993.1L1634.5 993.5L1635 993.8L1635.5 994.1L1636 994.4L1636.5 994.7L1637 995L1637.5 995.3L1638 995.6L1638.5 995.8L1639 996.1L1639.5 996.4L1640 996.7L1640.5 997L1641 997.3L1641.5 997.5L1642 997.8L1642.5 998.1L1643 998.4L1643.5 998.6L1644 998.9L1644.5 999.2L1645 999.4L1645.5 999.7L1646 999.9L1646.5 1000.2L1647 1000.4L1647.5 1000.7L1648 1000.9L1648.5 1001.2L1649 1001.4L1649.5 1001.7L1650 1001.9L1650.5 1002.1L1651 1002.4L1651.5 1002.6L1652 1002.9L1652.5 1003.1L1653 1003.3L1653.5 1003.5L1654 1003.8L1654.5 1004L1655 1004.2L1655.5 1004.4L1656 1004.6L1656.5 1004.8L1657 1005.1L1657.5 1005.3L1658 1005.5L1658.3 1005.6L1658.5 1005.7L1659 1005.9L1659.5 1006.1L1660 1006.3L1660.5 1006.5L1661 1006.7L1661.5 1006.9L1662 1007.1L1662.5 1007.3L1663 1007.5L1663.5 1007.7L1664 1007.9L1664.5 1008L1665 1008.2L1665.5 1008.4L1666 1008.6L1666.5 1008.8L1667 1009L1667.5 1009.1L1668 1009.3L1668.5 1009.5L1669 1009.7L1669.5 1009.9L1670 1010L1670.5 1010.2L1671 1010.4L1671.5 1010.5L1672 1010.7L1672.5 1010.9L1673 1011L1673.5 1011.2L1674 1011.4L1674.5 1011.5L1675 1011.7L1675.5 1011.8L1676 1012L1676.5 1012.2L1677 1012.3L1677.5 1012.5L1678 1012.6L1678.5 1012.8L1679 1012.9L1679.5 1013.1L1680 1013.2L1680.5 1013.4L1681 1013.5L1681.5 1013.7L1682 1013.8L1682.5 1013.9L1683 1014.1L1683.5 1014.2L1683.8 1014.3L1684 1014.4L1684.5 1014.5L1685 1014.6L1685.5 1014.8L1686 1014.9L1686.5 1015L1687 1015.2L1687.5 1015.3L1688 1015.4L1688.5 1015.6L1689 1015.7L1689.5 1015.8L1690 1015.9L1690.5 1016.1L1691 1016.2L1691.5 1016.3L1692 1016.4L1692.5 1016.5L1693 1016.7L1693.5 1016.8L1694 1016.9L1694.5 1017L1695 1017.1L1695.5 1017.3L1696 1017.4L1696.5 1017.5L1697 1017.6L1697.5 1017.7L1698 1017.8L1698.5 1017.9L1699 1018.1L1699.5 1018.2L1700 1018.3L1700.5 1018.4L1701 1018.5L1701.5 1018.6L1702 1018.7L1702.5 1018.8L1703 1018.9L1703.5 1019L1704 1019.1L1704.5 1019.2L1705 1019.3L1705.5 1019.4L1706 1019.5L1706.5 1019.6L1707 1019.7L1707.5 1019.8L1708 1019.9L1708.5 1020L1709 1020.1L1709.4 1020.2L1709.5 1020.2L1710 1020.3L1710.5 1020.4L1711 1020.5L1711.5 1020.6L1712 1020.7L1712.5 1020.8L1713 1020.9L1713.5 1021L1714 1021.1L1714.5 1021.2L1715 1021.2L1715.5 1021.3L1716 1021.4L1716.5 1021.5L1717 1021.6L1717.5 1021.7L1718 1021.8L1718.5 1021.9L1719 1022L1719.5 1022L1720 1022.1L1720.5 1022.2L1721 1022.3L1721.5 1022.4L1722 1022.5L1722.5 1022.6L1723 1022.6L1723.5 1022.7L1724 1022.8L1724.5 1022.9L1725 1023L1725.5 1023.1L1726 1023.1L1726.5 1023.2L1727 1023.3L1727.5 1023.4L1728 1023.5L1728.5 1023.5L1729 1023.6L1729.5 1023.7L1730 1023.8L1730.5 1023.8L1731 1023.9L1731.5 1024L1732 1024.1L1732.5 1024.1L1733 1024.2L1733.5 1024.3L1734 1024.4L1734.5 1024.4L1735 1024.5L1735.5 1024.6L1736 1024.7L1736.5 1024.7L1737 1024.8L1737.5 1024.9L1738 1024.9L1738.5 1025L1739 1025.1L1739.5 1025.1L1740 1025.2L1740.5 1025.3L1741 1025.3L1741.5 1025.4L1742 1025.5L1742.5 1025.5L1743 1025.6L1743.5 1025.7L1744 1025.7L1744.5 1025.8L1745 1025.9L1745.5 1025.9L1746 1026L1746.5 1026L1747 1026.1L1747.5 1026.2L1748 1026.2L1748.5 1026.3L1749 1026.4L1749.5 1026.4L1750 1026.5L1750.5 1026.5L1751 1026.6L1751.5 1026.7L1752 1026.7L1752.5 1026.8L1753 1026.8L1753.5 1026.9L1754 1027L1754.5 1027L1755 1027.1L1755.5 1027.1L1756 1027.2L1756.5 1027.3L1757 1027.3L1757.5 1027.4L1758 1027.4L1758.5 1027.5L1759 1027.5L1759.5 1027.6L1760 1027.6L1760.5 1027.7L1761 1027.8L1761.5 1027.8L1762 1027.9L1762.5 1027.9L1763 1028L1763.5 1028L1764 1028.1L1764.5 1028.1L1765 1028.2L1765.5 1028.2L1766 1028.3L1766.5 1028.3L1767 1028.4L1767.5 1028.4L1768 1028.5L1768.5 1028.5L1769 1028.6L1769.5 1028.6L1770 1028.7L1770.5 1028.7L1771 1028.8L1771.5 1028.8L1772 1028.9L1772.5 1028.9L1773 1029L1773.5 1029L1774 1029.1L1774.5 1029.1L1775 1029.2L1775.5 1029.2L1776 1029.3L1776.5 1029.3L1777 1029.3L1777.5 1029.4L1778 1029.4L1778.5 1029.5L1779 1029.5L1779.5 1029.6L1780 1029.6L1780.5 1029.6L1781 1029.7L1781.5 1029.7L1782 1029.8L1782.5 1029.8L1783 1029.8L1783.5 1029.9L1784 1029.9L1784.5 1030L1785 1030L1785.5 1030L1786 1030.1L1786.5 1030.1L1787 1030.2L1787.5 1030.2L1788 1030.2L1788.5 1030.3L1789 1030.3L1789.5 1030.4L1790 1030.4L1790.5 1030.4L1791 1030.5L1791.5 1030.5L1792 1030.6L1792.5 1030.6L1793 1030.6L1793.5 1030.7L1794 1030.7L1794.5 1030.7L1795 1030.8L1795.5 1030.8L1796 1030.8L1796.5 1030.9L1797 1030.9L1797.5 1031L1798 1031L1798.5 1031L1799 1031.1L1799.5 1031.1L1800 1031.1L1800.5 1031.2L1801 1031.2L1801.5 1031.2L1802 1031.3L1802.5 1031.3L1803 1031.3L1803.5 1031.4L1804 1031.4L1804.5 1031.4L1805 1031.5L1805.5 1031.5L1806 1031.5L1806.5 1031.6L1807 1031.6L1807.5 1031.6L1808 1031.7L1808.5 1031.7L1809 1031.7L1809.5 1031.7L1810 1031.8L1810.5 1031.8L1811 1031.8L1811.5 1031.9L1812 1031.9L1812.5 1031.9L1813 1032L1813.5 1032L1814 1032L1814.5 1032L1815 1032.1L1815.5 1032.1L1816 1032.1L1816.5 1032.1L1817 1032.2L1817.5 1032.2L1818 1032.2L1818.5 1032.2L1819 1032.3L1819.5 1032.3L1820 1032.3L1820.5 1032.3L1821 1032.4L1821.5 1032.4L1822 1032.4L1822.5 1032.4L1823 1032.5L1823.5 1032.5L1824 1032.5" fill="none" stroke="#e31e24" stroke-width="4.4" stroke-linejoin="round"/>
<rect x="997.4" y="28.4" width="822.3" height="1036.5" fill="none" stroke="#000" stroke-width="4.2"/>
</g>
<g font-family='"Liberation Sans", Arial, Helvetica, sans-serif' fill="#000">
<text x="18.2" y="72.3" font-size="62" letter-spacing="4">a)</text>
<text x="934.8" y="72.3" font-size="62" letter-spacing="2.9">b)</text>
<text transform="translate(61.7 757) rotate(-90)" font-size="52">Intensity (arb. un.)</text>
<text x="210.7" y="1126" font-size="52" text-anchor="middle">288</text>
<text x="446.3" y="1126" font-size="52" text-anchor="middle">286</text>
<text x="681" y="1126" font-size="52" text-anchor="middle">284</text>
<text x="915.6" y="1126" font-size="52" text-anchor="middle">282</text>
<text x="1114.9" y="1126" font-size="52" text-anchor="middle">288</text>
<text x="1350.1" y="1126" font-size="52" text-anchor="middle">286</text>
<text x="1585.2" y="1126" font-size="52" text-anchor="middle">284</text>
<text x="1820.9" y="1126" font-size="52" text-anchor="middle">282</text>
<text x="286.4" y="1185.5" font-size="52">Binding Energy (eV)</text>
<text x="1227.2" y="1185.5" font-size="52">Binding Energy (eV)</text>
<text x="762.6" y="113" font-size="46.8">NPG</text>
<text x="759.7" y="196.2" font-size="52" font-weight="bold">C 1s</text>
<text x="1615.2" y="113" font-size="46.8">D-NPG</text>
<circle cx="1066.8" cy="100" r="8.35"/>
<rect x="1042" y="154.9" width="48" height="15.3" fill="#009fe3"/>
<rect x="1042" y="211.1" width="48" height="15.2" fill="#009640"/>
<rect x="1042.5" y="273.4" width="47.5" height="15.4" fill="#ffed00"/>
<rect x="1029.9" y="343.9" width="72.2" height="4.4" fill="#e31e24"/>
<rect x="1029.9" y="403" width="72.2" height="4.2" fill="#8b2b8a"/>
<g font-size="40">
<text x="1135.2" y="113">Exp. data</text>
<text x="1135.8" y="171.6">sp<tspan font-size="23" dy="-12.6">2</tspan></text>
<text x="1135.8" y="230.2">sp<tspan font-size="23" dy="-12.6">3</tspan></text>
<text x="1135.6" y="294">CO<tspan font-size="23.5" dy="13.2">x</tspan></text>
<text x="1136.1" y="358.4">Total fit</text>
<text x="1136.2" y="416.1">Shirley BG</text>
</g></g>
</svg>
</body></html>
